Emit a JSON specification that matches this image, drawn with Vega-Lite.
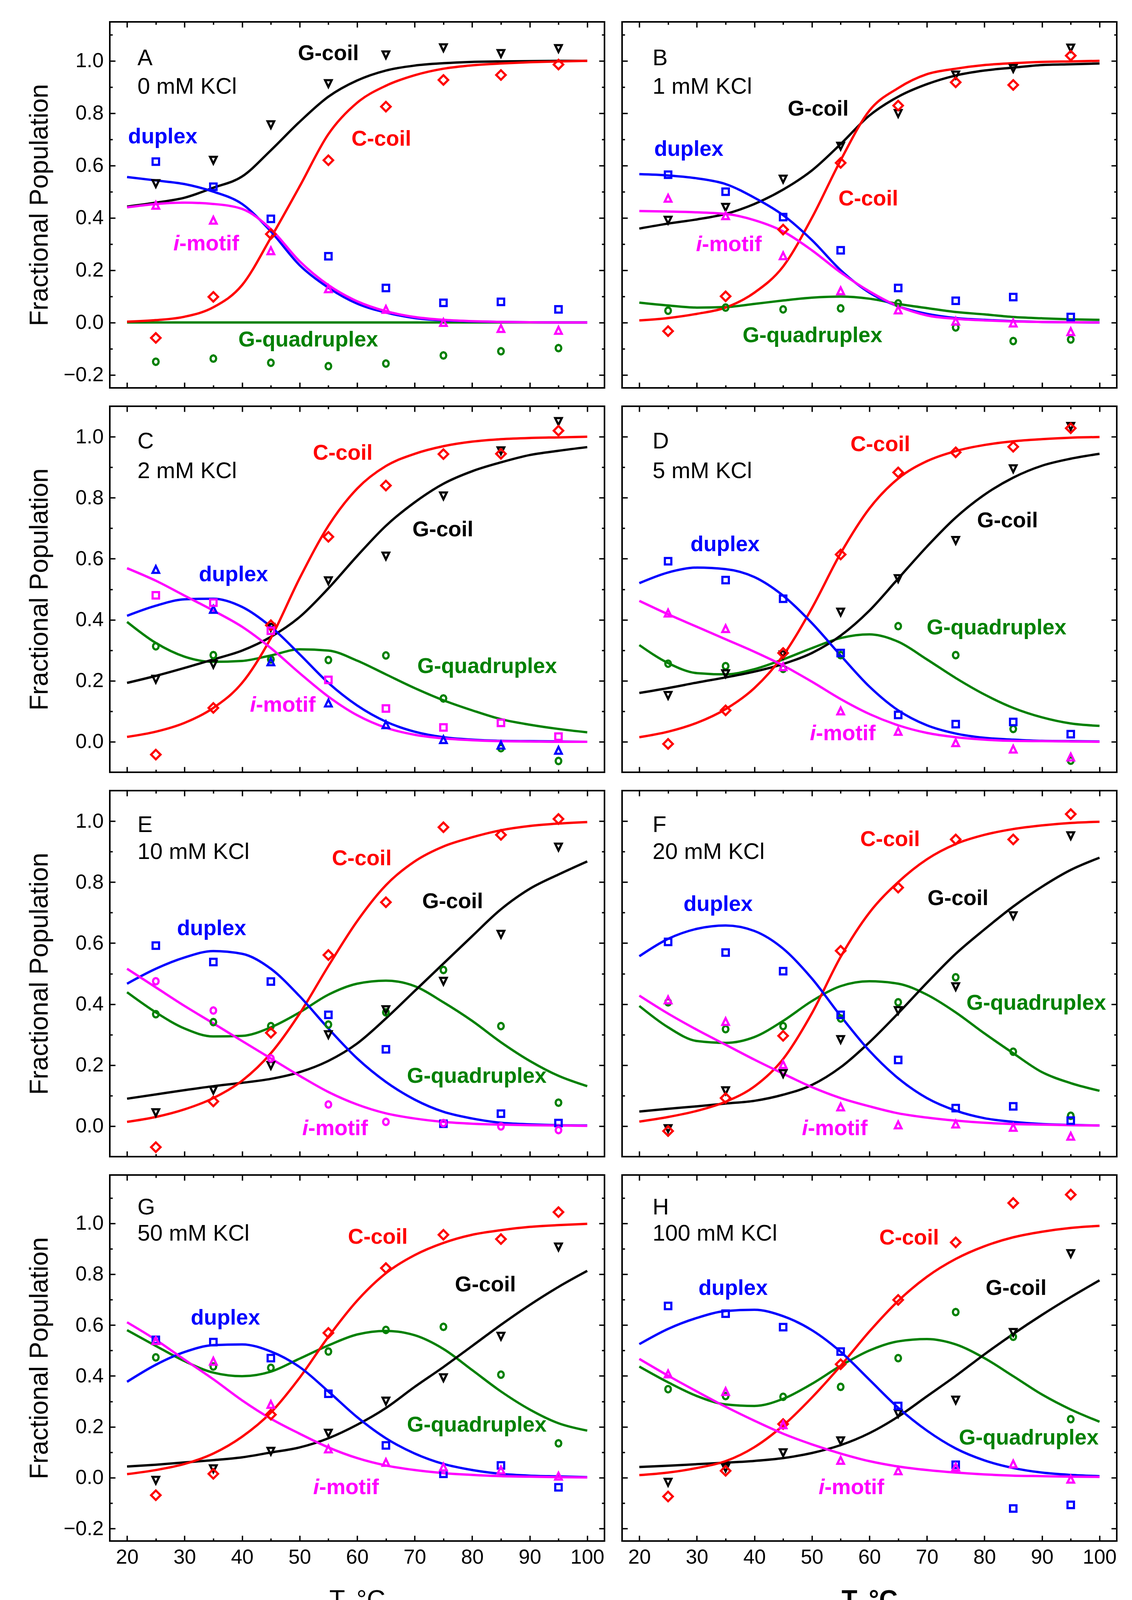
{
  "$schema": "https://vega.github.io/schema/vega-lite/v6.json",
  "padding": {"left": 65, "top": 52, "right": 40, "bottom": 5},
  "background": "white",
  "config": {
    "font": "Liberation Sans",
    "view": {"stroke": "#000000", "strokeWidth": 4},
    "axis": {
      "domain": false, "grid": false, "tickColor": "#000000", "tickWidth": 3.5,
      "labelFont": "Liberation Sans", "labelFontSize": 52, "labelColor": "#000000",
      "labelPadding": 30, "labelFlush": false, "labelOverlap": false,
      "titleFont": "Liberation Sans", "titleFontSize": 66, "titleColor": "#000000", "titleFontWeight": "normal"
    },
    "text": {"font": "Liberation Sans"}
  },
  "datasets": {
    "curves": [
      {"p":"A","s":"G-quadruplex","T":20,"f":0},{"p":"A","s":"G-quadruplex","T":25,"f":0},{"p":"A","s":"G-quadruplex","T":30,"f":0},{"p":"A","s":"G-quadruplex","T":35,"f":0},{"p":"A","s":"G-quadruplex","T":40,"f":0},{"p":"A","s":"G-quadruplex","T":45,"f":0},{"p":"A","s":"G-quadruplex","T":50,"f":0},{"p":"A","s":"G-quadruplex","T":55,"f":0},{"p":"A","s":"G-quadruplex","T":60,"f":0},{"p":"A","s":"G-quadruplex","T":65,"f":0},{"p":"A","s":"G-quadruplex","T":70,"f":0},{"p":"A","s":"G-quadruplex","T":75,"f":0},{"p":"A","s":"G-quadruplex","T":80,"f":0},{"p":"A","s":"G-quadruplex","T":85,"f":0},{"p":"A","s":"G-quadruplex","T":90,"f":0},{"p":"A","s":"G-quadruplex","T":95,"f":0},{"p":"A","s":"G-quadruplex","T":100,"f":0},
      {"p":"A","s":"G-coil","T":20,"f":0.443},{"p":"A","s":"G-coil","T":25,"f":0.458},{"p":"A","s":"G-coil","T":30,"f":0.477},{"p":"A","s":"G-coil","T":35,"f":0.515},{"p":"A","s":"G-coil","T":40,"f":0.558},{"p":"A","s":"G-coil","T":45,"f":0.658},{"p":"A","s":"G-coil","T":50,"f":0.767},{"p":"A","s":"G-coil","T":55,"f":0.863},{"p":"A","s":"G-coil","T":60,"f":0.925},{"p":"A","s":"G-coil","T":65,"f":0.963},{"p":"A","s":"G-coil","T":70,"f":0.982},{"p":"A","s":"G-coil","T":75,"f":0.991},{"p":"A","s":"G-coil","T":80,"f":0.996},{"p":"A","s":"G-coil","T":85,"f":0.998},{"p":"A","s":"G-coil","T":90,"f":0.999},{"p":"A","s":"G-coil","T":95,"f":1.0},{"p":"A","s":"G-coil","T":100,"f":1.0},
      {"p":"A","s":"C-coil","T":20,"f":0.003},{"p":"A","s":"C-coil","T":25,"f":0.009},{"p":"A","s":"C-coil","T":30,"f":0.022},{"p":"A","s":"C-coil","T":35,"f":0.058},{"p":"A","s":"C-coil","T":40,"f":0.143},{"p":"A","s":"C-coil","T":45,"f":0.324},{"p":"A","s":"C-coil","T":50,"f":0.52},{"p":"A","s":"C-coil","T":55,"f":0.72},{"p":"A","s":"C-coil","T":60,"f":0.84},{"p":"A","s":"C-coil","T":65,"f":0.905},{"p":"A","s":"C-coil","T":70,"f":0.945},{"p":"A","s":"C-coil","T":75,"f":0.97},{"p":"A","s":"C-coil","T":80,"f":0.983},{"p":"A","s":"C-coil","T":85,"f":0.99},{"p":"A","s":"C-coil","T":90,"f":0.995},{"p":"A","s":"C-coil","T":95,"f":0.998},{"p":"A","s":"C-coil","T":100,"f":1.0},
      {"p":"A","s":"duplex","T":20,"f":0.556},{"p":"A","s":"duplex","T":25,"f":0.543},{"p":"A","s":"duplex","T":30,"f":0.529},{"p":"A","s":"duplex","T":35,"f":0.5},{"p":"A","s":"duplex","T":40,"f":0.453},{"p":"A","s":"duplex","T":45,"f":0.348},{"p":"A","s":"duplex","T":50,"f":0.219},{"p":"A","s":"duplex","T":55,"f":0.133},{"p":"A","s":"duplex","T":60,"f":0.072},{"p":"A","s":"duplex","T":65,"f":0.038},{"p":"A","s":"duplex","T":70,"f":0.017},{"p":"A","s":"duplex","T":75,"f":0.008},{"p":"A","s":"duplex","T":80,"f":0.004},{"p":"A","s":"duplex","T":85,"f":0.002},{"p":"A","s":"duplex","T":90,"f":0.001},{"p":"A","s":"duplex","T":95,"f":0},{"p":"A","s":"duplex","T":100,"f":0},
      {"p":"A","s":"i-motif","T":20,"f":0.44},{"p":"A","s":"i-motif","T":25,"f":0.453},{"p":"A","s":"i-motif","T":30,"f":0.458},{"p":"A","s":"i-motif","T":35,"f":0.453},{"p":"A","s":"i-motif","T":40,"f":0.434},{"p":"A","s":"i-motif","T":45,"f":0.357},{"p":"A","s":"i-motif","T":50,"f":0.234},{"p":"A","s":"i-motif","T":55,"f":0.143},{"p":"A","s":"i-motif","T":60,"f":0.081},{"p":"A","s":"i-motif","T":65,"f":0.043},{"p":"A","s":"i-motif","T":70,"f":0.021},{"p":"A","s":"i-motif","T":75,"f":0.01},{"p":"A","s":"i-motif","T":80,"f":0.005},{"p":"A","s":"i-motif","T":85,"f":0.002},{"p":"A","s":"i-motif","T":90,"f":0.001},{"p":"A","s":"i-motif","T":95,"f":0},{"p":"A","s":"i-motif","T":100,"f":0},

      {"p":"B","s":"G-quadruplex","T":20,"f":0.076},{"p":"B","s":"G-quadruplex","T":25,"f":0.065},{"p":"B","s":"G-quadruplex","T":30,"f":0.057},{"p":"B","s":"G-quadruplex","T":35,"f":0.059},{"p":"B","s":"G-quadruplex","T":40,"f":0.071},{"p":"B","s":"G-quadruplex","T":45,"f":0.084},{"p":"B","s":"G-quadruplex","T":50,"f":0.095},{"p":"B","s":"G-quadruplex","T":55,"f":0.099},{"p":"B","s":"G-quadruplex","T":60,"f":0.091},{"p":"B","s":"G-quadruplex","T":65,"f":0.071},{"p":"B","s":"G-quadruplex","T":70,"f":0.055},{"p":"B","s":"G-quadruplex","T":75,"f":0.04},{"p":"B","s":"G-quadruplex","T":80,"f":0.031},{"p":"B","s":"G-quadruplex","T":85,"f":0.021},{"p":"B","s":"G-quadruplex","T":90,"f":0.016},{"p":"B","s":"G-quadruplex","T":95,"f":0.012},{"p":"B","s":"G-quadruplex","T":100,"f":0.01},
      {"p":"B","s":"G-coil","T":20,"f":0.359},{"p":"B","s":"G-coil","T":25,"f":0.378},{"p":"B","s":"G-coil","T":30,"f":0.394},{"p":"B","s":"G-coil","T":35,"f":0.415},{"p":"B","s":"G-coil","T":40,"f":0.453},{"p":"B","s":"G-coil","T":45,"f":0.508},{"p":"B","s":"G-coil","T":50,"f":0.581},{"p":"B","s":"G-coil","T":55,"f":0.682},{"p":"B","s":"G-coil","T":60,"f":0.791},{"p":"B","s":"G-coil","T":65,"f":0.863},{"p":"B","s":"G-coil","T":70,"f":0.911},{"p":"B","s":"G-coil","T":75,"f":0.944},{"p":"B","s":"G-coil","T":80,"f":0.963},{"p":"B","s":"G-coil","T":85,"f":0.974},{"p":"B","s":"G-coil","T":90,"f":0.984},{"p":"B","s":"G-coil","T":95,"f":0.987},{"p":"B","s":"G-coil","T":100,"f":0.99},
      {"p":"B","s":"C-coil","T":20,"f":0.008},{"p":"B","s":"C-coil","T":25,"f":0.017},{"p":"B","s":"C-coil","T":30,"f":0.033},{"p":"B","s":"C-coil","T":35,"f":0.057},{"p":"B","s":"C-coil","T":40,"f":0.114},{"p":"B","s":"C-coil","T":45,"f":0.214},{"p":"B","s":"C-coil","T":50,"f":0.4},{"p":"B","s":"C-coil","T":55,"f":0.62},{"p":"B","s":"C-coil","T":60,"f":0.81},{"p":"B","s":"C-coil","T":65,"f":0.896},{"p":"B","s":"C-coil","T":70,"f":0.949},{"p":"B","s":"C-coil","T":75,"f":0.97},{"p":"B","s":"C-coil","T":80,"f":0.984},{"p":"B","s":"C-coil","T":85,"f":0.991},{"p":"B","s":"C-coil","T":90,"f":0.996},{"p":"B","s":"C-coil","T":95,"f":0.998},{"p":"B","s":"C-coil","T":100,"f":1.0},
      {"p":"B","s":"duplex","T":20,"f":0.567},{"p":"B","s":"duplex","T":25,"f":0.562},{"p":"B","s":"duplex","T":30,"f":0.551},{"p":"B","s":"duplex","T":35,"f":0.529},{"p":"B","s":"duplex","T":40,"f":0.477},{"p":"B","s":"duplex","T":45,"f":0.41},{"p":"B","s":"duplex","T":50,"f":0.315},{"p":"B","s":"duplex","T":55,"f":0.2},{"p":"B","s":"duplex","T":60,"f":0.114},{"p":"B","s":"duplex","T":65,"f":0.062},{"p":"B","s":"duplex","T":70,"f":0.033},{"p":"B","s":"duplex","T":75,"f":0.017},{"p":"B","s":"duplex","T":80,"f":0.01},{"p":"B","s":"duplex","T":85,"f":0.005},{"p":"B","s":"duplex","T":90,"f":0.002},{"p":"B","s":"duplex","T":95,"f":0.001},{"p":"B","s":"duplex","T":100,"f":0},
      {"p":"B","s":"i-motif","T":20,"f":0.426},{"p":"B","s":"i-motif","T":25,"f":0.424},{"p":"B","s":"i-motif","T":30,"f":0.421},{"p":"B","s":"i-motif","T":35,"f":0.415},{"p":"B","s":"i-motif","T":40,"f":0.391},{"p":"B","s":"i-motif","T":45,"f":0.348},{"p":"B","s":"i-motif","T":50,"f":0.276},{"p":"B","s":"i-motif","T":55,"f":0.191},{"p":"B","s":"i-motif","T":60,"f":0.119},{"p":"B","s":"i-motif","T":65,"f":0.062},{"p":"B","s":"i-motif","T":70,"f":0.027},{"p":"B","s":"i-motif","T":75,"f":0.014},{"p":"B","s":"i-motif","T":80,"f":0.008},{"p":"B","s":"i-motif","T":85,"f":0.004},{"p":"B","s":"i-motif","T":90,"f":0.002},{"p":"B","s":"i-motif","T":95,"f":0.001},{"p":"B","s":"i-motif","T":100,"f":0},

      {"p":"C","s":"G-quadruplex","T":20,"f":0.393},{"p":"C","s":"G-quadruplex","T":25,"f":0.324},{"p":"C","s":"G-quadruplex","T":30,"f":0.279},{"p":"C","s":"G-quadruplex","T":35,"f":0.262},{"p":"C","s":"G-quadruplex","T":40,"f":0.265},{"p":"C","s":"G-quadruplex","T":45,"f":0.283},{"p":"C","s":"G-quadruplex","T":50,"f":0.303},{"p":"C","s":"G-quadruplex","T":55,"f":0.299},{"p":"C","s":"G-quadruplex","T":60,"f":0.266},{"p":"C","s":"G-quadruplex","T":65,"f":0.221},{"p":"C","s":"G-quadruplex","T":70,"f":0.176},{"p":"C","s":"G-quadruplex","T":75,"f":0.136},{"p":"C","s":"G-quadruplex","T":80,"f":0.103},{"p":"C","s":"G-quadruplex","T":85,"f":0.074},{"p":"C","s":"G-quadruplex","T":90,"f":0.056},{"p":"C","s":"G-quadruplex","T":95,"f":0.042},{"p":"C","s":"G-quadruplex","T":100,"f":0.031},
      {"p":"C","s":"G-coil","T":20,"f":0.193},{"p":"C","s":"G-coil","T":25,"f":0.216},{"p":"C","s":"G-coil","T":30,"f":0.242},{"p":"C","s":"G-coil","T":35,"f":0.27},{"p":"C","s":"G-coil","T":40,"f":0.299},{"p":"C","s":"G-coil","T":45,"f":0.344},{"p":"C","s":"G-coil","T":50,"f":0.409},{"p":"C","s":"G-coil","T":55,"f":0.503},{"p":"C","s":"G-coil","T":60,"f":0.609},{"p":"C","s":"G-coil","T":65,"f":0.708},{"p":"C","s":"G-coil","T":70,"f":0.785},{"p":"C","s":"G-coil","T":75,"f":0.846},{"p":"C","s":"G-coil","T":80,"f":0.887},{"p":"C","s":"G-coil","T":85,"f":0.916},{"p":"C","s":"G-coil","T":90,"f":0.94},{"p":"C","s":"G-coil","T":95,"f":0.954},{"p":"C","s":"G-coil","T":100,"f":0.966},
      {"p":"C","s":"C-coil","T":20,"f":0.016},{"p":"C","s":"C-coil","T":25,"f":0.033},{"p":"C","s":"C-coil","T":30,"f":0.062},{"p":"C","s":"C-coil","T":35,"f":0.111},{"p":"C","s":"C-coil","T":40,"f":0.193},{"p":"C","s":"C-coil","T":45,"f":0.34},{"p":"C","s":"C-coil","T":50,"f":0.536},{"p":"C","s":"C-coil","T":55,"f":0.708},{"p":"C","s":"C-coil","T":60,"f":0.83},{"p":"C","s":"C-coil","T":65,"f":0.904},{"p":"C","s":"C-coil","T":70,"f":0.944},{"p":"C","s":"C-coil","T":75,"f":0.969},{"p":"C","s":"C-coil","T":80,"f":0.984},{"p":"C","s":"C-coil","T":85,"f":0.992},{"p":"C","s":"C-coil","T":90,"f":0.996},{"p":"C","s":"C-coil","T":95,"f":0.998},{"p":"C","s":"C-coil","T":100,"f":1.0},
      {"p":"C","s":"duplex","T":20,"f":0.413},{"p":"C","s":"duplex","T":25,"f":0.446},{"p":"C","s":"duplex","T":30,"f":0.467},{"p":"C","s":"duplex","T":35,"f":0.469},{"p":"C","s":"duplex","T":40,"f":0.442},{"p":"C","s":"duplex","T":45,"f":0.377},{"p":"C","s":"duplex","T":50,"f":0.287},{"p":"C","s":"duplex","T":55,"f":0.193},{"p":"C","s":"duplex","T":60,"f":0.119},{"p":"C","s":"duplex","T":65,"f":0.066},{"p":"C","s":"duplex","T":70,"f":0.033},{"p":"C","s":"duplex","T":75,"f":0.015},{"p":"C","s":"duplex","T":80,"f":0.007},{"p":"C","s":"duplex","T":85,"f":0.003},{"p":"C","s":"duplex","T":90,"f":0.002},{"p":"C","s":"duplex","T":95,"f":0.001},{"p":"C","s":"duplex","T":100,"f":0},
      {"p":"C","s":"i-motif","T":20,"f":0.569},{"p":"C","s":"i-motif","T":25,"f":0.528},{"p":"C","s":"i-motif","T":30,"f":0.479},{"p":"C","s":"i-motif","T":35,"f":0.43},{"p":"C","s":"i-motif","T":40,"f":0.377},{"p":"C","s":"i-motif","T":45,"f":0.307},{"p":"C","s":"i-motif","T":50,"f":0.225},{"p":"C","s":"i-motif","T":55,"f":0.148},{"p":"C","s":"i-motif","T":60,"f":0.087},{"p":"C","s":"i-motif","T":65,"f":0.046},{"p":"C","s":"i-motif","T":70,"f":0.023},{"p":"C","s":"i-motif","T":75,"f":0.011},{"p":"C","s":"i-motif","T":80,"f":0.005},{"p":"C","s":"i-motif","T":85,"f":0.002},{"p":"C","s":"i-motif","T":90,"f":0.001},{"p":"C","s":"i-motif","T":95,"f":0},{"p":"C","s":"i-motif","T":100,"f":0},

      {"p":"D","s":"G-quadruplex","T":20,"f":0.317},{"p":"D","s":"G-quadruplex","T":25,"f":0.258},{"p":"D","s":"G-quadruplex","T":30,"f":0.225},{"p":"D","s":"G-quadruplex","T":35,"f":0.221},{"p":"D","s":"G-quadruplex","T":40,"f":0.238},{"p":"D","s":"G-quadruplex","T":45,"f":0.27},{"p":"D","s":"G-quadruplex","T":50,"f":0.307},{"p":"D","s":"G-quadruplex","T":55,"f":0.34},{"p":"D","s":"G-quadruplex","T":60,"f":0.352},{"p":"D","s":"G-quadruplex","T":65,"f":0.328},{"p":"D","s":"G-quadruplex","T":70,"f":0.27},{"p":"D","s":"G-quadruplex","T":75,"f":0.209},{"p":"D","s":"G-quadruplex","T":80,"f":0.155},{"p":"D","s":"G-quadruplex","T":85,"f":0.111},{"p":"D","s":"G-quadruplex","T":90,"f":0.08},{"p":"D","s":"G-quadruplex","T":95,"f":0.06},{"p":"D","s":"G-quadruplex","T":100,"f":0.052},
      {"p":"D","s":"G-coil","T":20,"f":0.16},{"p":"D","s":"G-coil","T":25,"f":0.176},{"p":"D","s":"G-coil","T":30,"f":0.194},{"p":"D","s":"G-coil","T":35,"f":0.211},{"p":"D","s":"G-coil","T":40,"f":0.23},{"p":"D","s":"G-coil","T":45,"f":0.255},{"p":"D","s":"G-coil","T":50,"f":0.291},{"p":"D","s":"G-coil","T":55,"f":0.348},{"p":"D","s":"G-coil","T":60,"f":0.43},{"p":"D","s":"G-coil","T":65,"f":0.535},{"p":"D","s":"G-coil","T":70,"f":0.64},{"p":"D","s":"G-coil","T":75,"f":0.735},{"p":"D","s":"G-coil","T":80,"f":0.81},{"p":"D","s":"G-coil","T":85,"f":0.866},{"p":"D","s":"G-coil","T":90,"f":0.905},{"p":"D","s":"G-coil","T":95,"f":0.928},{"p":"D","s":"G-coil","T":100,"f":0.944},
      {"p":"D","s":"C-coil","T":20,"f":0.015},{"p":"D","s":"C-coil","T":25,"f":0.033},{"p":"D","s":"C-coil","T":30,"f":0.062},{"p":"D","s":"C-coil","T":35,"f":0.107},{"p":"D","s":"C-coil","T":40,"f":0.176},{"p":"D","s":"C-coil","T":45,"f":0.283},{"p":"D","s":"C-coil","T":50,"f":0.438},{"p":"D","s":"C-coil","T":55,"f":0.618},{"p":"D","s":"C-coil","T":60,"f":0.765},{"p":"D","s":"C-coil","T":65,"f":0.863},{"p":"D","s":"C-coil","T":70,"f":0.92},{"p":"D","s":"C-coil","T":75,"f":0.953},{"p":"D","s":"C-coil","T":80,"f":0.973},{"p":"D","s":"C-coil","T":85,"f":0.985},{"p":"D","s":"C-coil","T":90,"f":0.992},{"p":"D","s":"C-coil","T":95,"f":0.997},{"p":"D","s":"C-coil","T":100,"f":0.999},
      {"p":"D","s":"duplex","T":20,"f":0.52},{"p":"D","s":"duplex","T":25,"f":0.555},{"p":"D","s":"duplex","T":30,"f":0.571},{"p":"D","s":"duplex","T":35,"f":0.566},{"p":"D","s":"duplex","T":40,"f":0.54},{"p":"D","s":"duplex","T":45,"f":0.479},{"p":"D","s":"duplex","T":50,"f":0.389},{"p":"D","s":"duplex","T":55,"f":0.283},{"p":"D","s":"duplex","T":60,"f":0.181},{"p":"D","s":"duplex","T":65,"f":0.103},{"p":"D","s":"duplex","T":70,"f":0.054},{"p":"D","s":"duplex","T":75,"f":0.027},{"p":"D","s":"duplex","T":80,"f":0.013},{"p":"D","s":"duplex","T":85,"f":0.007},{"p":"D","s":"duplex","T":90,"f":0.003},{"p":"D","s":"duplex","T":95,"f":0.002},{"p":"D","s":"duplex","T":100,"f":0.001},
      {"p":"D","s":"i-motif","T":20,"f":0.462},{"p":"D","s":"i-motif","T":25,"f":0.418},{"p":"D","s":"i-motif","T":30,"f":0.377},{"p":"D","s":"i-motif","T":35,"f":0.336},{"p":"D","s":"i-motif","T":40,"f":0.295},{"p":"D","s":"i-motif","T":45,"f":0.25},{"p":"D","s":"i-motif","T":50,"f":0.197},{"p":"D","s":"i-motif","T":55,"f":0.14},{"p":"D","s":"i-motif","T":60,"f":0.091},{"p":"D","s":"i-motif","T":65,"f":0.054},{"p":"D","s":"i-motif","T":70,"f":0.029},{"p":"D","s":"i-motif","T":75,"f":0.015},{"p":"D","s":"i-motif","T":80,"f":0.007},{"p":"D","s":"i-motif","T":85,"f":0.003},{"p":"D","s":"i-motif","T":90,"f":0.002},{"p":"D","s":"i-motif","T":95,"f":0.001},{"p":"D","s":"i-motif","T":100,"f":0},

      {"p":"E","s":"G-quadruplex","T":20,"f":0.439},{"p":"E","s":"G-quadruplex","T":25,"f":0.373},{"p":"E","s":"G-quadruplex","T":30,"f":0.32},{"p":"E","s":"G-quadruplex","T":35,"f":0.294},{"p":"E","s":"G-quadruplex","T":40,"f":0.296},{"p":"E","s":"G-quadruplex","T":45,"f":0.324},{"p":"E","s":"G-quadruplex","T":50,"f":0.373},{"p":"E","s":"G-quadruplex","T":55,"f":0.431},{"p":"E","s":"G-quadruplex","T":60,"f":0.467},{"p":"E","s":"G-quadruplex","T":65,"f":0.477},{"p":"E","s":"G-quadruplex","T":70,"f":0.459},{"p":"E","s":"G-quadruplex","T":75,"f":0.406},{"p":"E","s":"G-quadruplex","T":80,"f":0.345},{"p":"E","s":"G-quadruplex","T":85,"f":0.275},{"p":"E","s":"G-quadruplex","T":90,"f":0.214},{"p":"E","s":"G-quadruplex","T":95,"f":0.165},{"p":"E","s":"G-quadruplex","T":100,"f":0.131},
      {"p":"E","s":"G-coil","T":20,"f":0.09},{"p":"E","s":"G-coil","T":25,"f":0.104},{"p":"E","s":"G-coil","T":30,"f":0.118},{"p":"E","s":"G-coil","T":35,"f":0.131},{"p":"E","s":"G-coil","T":40,"f":0.142},{"p":"E","s":"G-coil","T":45,"f":0.155},{"p":"E","s":"G-coil","T":50,"f":0.177},{"p":"E","s":"G-coil","T":55,"f":0.214},{"p":"E","s":"G-coil","T":60,"f":0.271},{"p":"E","s":"G-coil","T":65,"f":0.353},{"p":"E","s":"G-coil","T":70,"f":0.443},{"p":"E","s":"G-coil","T":75,"f":0.533},{"p":"E","s":"G-coil","T":80,"f":0.623},{"p":"E","s":"G-coil","T":85,"f":0.711},{"p":"E","s":"G-coil","T":90,"f":0.778},{"p":"E","s":"G-coil","T":95,"f":0.825},{"p":"E","s":"G-coil","T":100,"f":0.868},
      {"p":"E","s":"C-coil","T":20,"f":0.014},{"p":"E","s":"C-coil","T":25,"f":0.03},{"p":"E","s":"C-coil","T":30,"f":0.055},{"p":"E","s":"C-coil","T":35,"f":0.092},{"p":"E","s":"C-coil","T":40,"f":0.149},{"p":"E","s":"C-coil","T":45,"f":0.239},{"p":"E","s":"C-coil","T":50,"f":0.369},{"p":"E","s":"C-coil","T":55,"f":0.525},{"p":"E","s":"C-coil","T":60,"f":0.672},{"p":"E","s":"C-coil","T":65,"f":0.79},{"p":"E","s":"C-coil","T":70,"f":0.868},{"p":"E","s":"C-coil","T":75,"f":0.917},{"p":"E","s":"C-coil","T":80,"f":0.947},{"p":"E","s":"C-coil","T":85,"f":0.97},{"p":"E","s":"C-coil","T":90,"f":0.984},{"p":"E","s":"C-coil","T":95,"f":0.992},{"p":"E","s":"C-coil","T":100,"f":0.997},
      {"p":"E","s":"duplex","T":20,"f":0.467},{"p":"E","s":"duplex","T":25,"f":0.516},{"p":"E","s":"duplex","T":30,"f":0.553},{"p":"E","s":"duplex","T":35,"f":0.574},{"p":"E","s":"duplex","T":40,"f":0.565},{"p":"E","s":"duplex","T":45,"f":0.516},{"p":"E","s":"duplex","T":50,"f":0.426},{"p":"E","s":"duplex","T":55,"f":0.32},{"p":"E","s":"duplex","T":60,"f":0.222},{"p":"E","s":"duplex","T":65,"f":0.145},{"p":"E","s":"duplex","T":70,"f":0.087},{"p":"E","s":"duplex","T":75,"f":0.047},{"p":"E","s":"duplex","T":80,"f":0.025},{"p":"E","s":"duplex","T":85,"f":0.011},{"p":"E","s":"duplex","T":90,"f":0.006},{"p":"E","s":"duplex","T":95,"f":0.003},{"p":"E","s":"duplex","T":100,"f":0.002},
      {"p":"E","s":"i-motif","T":20,"f":0.516},{"p":"E","s":"i-motif","T":25,"f":0.455},{"p":"E","s":"i-motif","T":30,"f":0.394},{"p":"E","s":"i-motif","T":35,"f":0.337},{"p":"E","s":"i-motif","T":40,"f":0.279},{"p":"E","s":"i-motif","T":45,"f":0.222},{"p":"E","s":"i-motif","T":50,"f":0.165},{"p":"E","s":"i-motif","T":55,"f":0.112},{"p":"E","s":"i-motif","T":60,"f":0.071},{"p":"E","s":"i-motif","T":65,"f":0.042},{"p":"E","s":"i-motif","T":70,"f":0.025},{"p":"E","s":"i-motif","T":75,"f":0.014},{"p":"E","s":"i-motif","T":80,"f":0.008},{"p":"E","s":"i-motif","T":85,"f":0.005},{"p":"E","s":"i-motif","T":90,"f":0.003},{"p":"E","s":"i-motif","T":95,"f":0.002},{"p":"E","s":"i-motif","T":100,"f":0.001},

      {"p":"F","s":"G-quadruplex","T":20,"f":0.394},{"p":"F","s":"G-quadruplex","T":25,"f":0.324},{"p":"F","s":"G-quadruplex","T":30,"f":0.279},{"p":"F","s":"G-quadruplex","T":35,"f":0.273},{"p":"F","s":"G-quadruplex","T":40,"f":0.292},{"p":"F","s":"G-quadruplex","T":45,"f":0.345},{"p":"F","s":"G-quadruplex","T":50,"f":0.41},{"p":"F","s":"G-quadruplex","T":55,"f":0.459},{"p":"F","s":"G-quadruplex","T":60,"f":0.475},{"p":"F","s":"G-quadruplex","T":65,"f":0.467},{"p":"F","s":"G-quadruplex","T":70,"f":0.431},{"p":"F","s":"G-quadruplex","T":75,"f":0.373},{"p":"F","s":"G-quadruplex","T":80,"f":0.304},{"p":"F","s":"G-quadruplex","T":85,"f":0.239},{"p":"F","s":"G-quadruplex","T":90,"f":0.177},{"p":"F","s":"G-quadruplex","T":95,"f":0.141},{"p":"F","s":"G-quadruplex","T":100,"f":0.116},
      {"p":"F","s":"G-coil","T":20,"f":0.048},{"p":"F","s":"G-coil","T":25,"f":0.057},{"p":"F","s":"G-coil","T":30,"f":0.065},{"p":"F","s":"G-coil","T":35,"f":0.074},{"p":"F","s":"G-coil","T":40,"f":0.083},{"p":"F","s":"G-coil","T":45,"f":0.103},{"p":"F","s":"G-coil","T":50,"f":0.135},{"p":"F","s":"G-coil","T":55,"f":0.193},{"p":"F","s":"G-coil","T":60,"f":0.275},{"p":"F","s":"G-coil","T":65,"f":0.37},{"p":"F","s":"G-coil","T":70,"f":0.47},{"p":"F","s":"G-coil","T":75,"f":0.565},{"p":"F","s":"G-coil","T":80,"f":0.645},{"p":"F","s":"G-coil","T":85,"f":0.72},{"p":"F","s":"G-coil","T":90,"f":0.785},{"p":"F","s":"G-coil","T":95,"f":0.84},{"p":"F","s":"G-coil","T":100,"f":0.88},
      {"p":"F","s":"C-coil","T":20,"f":0.015},{"p":"F","s":"C-coil","T":25,"f":0.03},{"p":"F","s":"C-coil","T":30,"f":0.05},{"p":"F","s":"C-coil","T":35,"f":0.08},{"p":"F","s":"C-coil","T":40,"f":0.13},{"p":"F","s":"C-coil","T":45,"f":0.22},{"p":"F","s":"C-coil","T":50,"f":0.37},{"p":"F","s":"C-coil","T":55,"f":0.555},{"p":"F","s":"C-coil","T":60,"f":0.7},{"p":"F","s":"C-coil","T":65,"f":0.8},{"p":"F","s":"C-coil","T":70,"f":0.875},{"p":"F","s":"C-coil","T":75,"f":0.925},{"p":"F","s":"C-coil","T":80,"f":0.955},{"p":"F","s":"C-coil","T":85,"f":0.974},{"p":"F","s":"C-coil","T":90,"f":0.986},{"p":"F","s":"C-coil","T":95,"f":0.994},{"p":"F","s":"C-coil","T":100,"f":0.998},
      {"p":"F","s":"duplex","T":20,"f":0.557},{"p":"F","s":"duplex","T":25,"f":0.614},{"p":"F","s":"duplex","T":30,"f":0.647},{"p":"F","s":"duplex","T":35,"f":0.658},{"p":"F","s":"duplex","T":40,"f":0.64},{"p":"F","s":"duplex","T":45,"f":0.582},{"p":"F","s":"duplex","T":50,"f":0.484},{"p":"F","s":"duplex","T":55,"f":0.361},{"p":"F","s":"duplex","T":60,"f":0.247},{"p":"F","s":"duplex","T":65,"f":0.157},{"p":"F","s":"duplex","T":70,"f":0.092},{"p":"F","s":"duplex","T":75,"f":0.051},{"p":"F","s":"duplex","T":80,"f":0.026},{"p":"F","s":"duplex","T":85,"f":0.014},{"p":"F","s":"duplex","T":90,"f":0.007},{"p":"F","s":"duplex","T":95,"f":0.004},{"p":"F","s":"duplex","T":100,"f":0.002},
      {"p":"F","s":"i-motif","T":20,"f":0.428},{"p":"F","s":"i-motif","T":25,"f":0.369},{"p":"F","s":"i-motif","T":30,"f":0.316},{"p":"F","s":"i-motif","T":35,"f":0.267},{"p":"F","s":"i-motif","T":40,"f":0.218},{"p":"F","s":"i-motif","T":45,"f":0.172},{"p":"F","s":"i-motif","T":50,"f":0.128},{"p":"F","s":"i-motif","T":55,"f":0.092},{"p":"F","s":"i-motif","T":60,"f":0.065},{"p":"F","s":"i-motif","T":65,"f":0.042},{"p":"F","s":"i-motif","T":70,"f":0.028},{"p":"F","s":"i-motif","T":75,"f":0.018},{"p":"F","s":"i-motif","T":80,"f":0.011},{"p":"F","s":"i-motif","T":85,"f":0.007},{"p":"F","s":"i-motif","T":90,"f":0.005},{"p":"F","s":"i-motif","T":95,"f":0.003},{"p":"F","s":"i-motif","T":100,"f":0.002},

      {"p":"G","s":"G-quadruplex","T":20,"f":0.58},{"p":"G","s":"G-quadruplex","T":25,"f":0.518},{"p":"G","s":"G-quadruplex","T":30,"f":0.458},{"p":"G","s":"G-quadruplex","T":35,"f":0.413},{"p":"G","s":"G-quadruplex","T":40,"f":0.399},{"p":"G","s":"G-quadruplex","T":45,"f":0.417},{"p":"G","s":"G-quadruplex","T":50,"f":0.468},{"p":"G","s":"G-quadruplex","T":55,"f":0.52},{"p":"G","s":"G-quadruplex","T":60,"f":0.563},{"p":"G","s":"G-quadruplex","T":65,"f":0.577},{"p":"G","s":"G-quadruplex","T":70,"f":0.56},{"p":"G","s":"G-quadruplex","T":75,"f":0.506},{"p":"G","s":"G-quadruplex","T":80,"f":0.423},{"p":"G","s":"G-quadruplex","T":85,"f":0.339},{"p":"G","s":"G-quadruplex","T":90,"f":0.268},{"p":"G","s":"G-quadruplex","T":95,"f":0.214},{"p":"G","s":"G-quadruplex","T":100,"f":0.185},
      {"p":"G","s":"G-coil","T":20,"f":0.044},{"p":"G","s":"G-coil","T":25,"f":0.051},{"p":"G","s":"G-coil","T":30,"f":0.06},{"p":"G","s":"G-coil","T":35,"f":0.069},{"p":"G","s":"G-coil","T":40,"f":0.08},{"p":"G","s":"G-coil","T":45,"f":0.099},{"p":"G","s":"G-coil","T":50,"f":0.119},{"p":"G","s":"G-coil","T":55,"f":0.155},{"p":"G","s":"G-coil","T":60,"f":0.208},{"p":"G","s":"G-coil","T":65,"f":0.274},{"p":"G","s":"G-coil","T":70,"f":0.357},{"p":"G","s":"G-coil","T":75,"f":0.435},{"p":"G","s":"G-coil","T":80,"f":0.518},{"p":"G","s":"G-coil","T":85,"f":0.601},{"p":"G","s":"G-coil","T":90,"f":0.679},{"p":"G","s":"G-coil","T":95,"f":0.75},{"p":"G","s":"G-coil","T":100,"f":0.813},
      {"p":"G","s":"C-coil","T":20,"f":0.014},{"p":"G","s":"C-coil","T":25,"f":0.03},{"p":"G","s":"C-coil","T":30,"f":0.054},{"p":"G","s":"C-coil","T":35,"f":0.095},{"p":"G","s":"C-coil","T":40,"f":0.161},{"p":"G","s":"C-coil","T":45,"f":0.256},{"p":"G","s":"C-coil","T":50,"f":0.393},{"p":"G","s":"C-coil","T":55,"f":0.554},{"p":"G","s":"C-coil","T":60,"f":0.696},{"p":"G","s":"C-coil","T":65,"f":0.804},{"p":"G","s":"C-coil","T":70,"f":0.875},{"p":"G","s":"C-coil","T":75,"f":0.923},{"p":"G","s":"C-coil","T":80,"f":0.955},{"p":"G","s":"C-coil","T":85,"f":0.973},{"p":"G","s":"C-coil","T":90,"f":0.986},{"p":"G","s":"C-coil","T":95,"f":0.993},{"p":"G","s":"C-coil","T":100,"f":0.998},
      {"p":"G","s":"duplex","T":20,"f":0.377},{"p":"G","s":"duplex","T":25,"f":0.444},{"p":"G","s":"duplex","T":30,"f":0.494},{"p":"G","s":"duplex","T":35,"f":0.521},{"p":"G","s":"duplex","T":40,"f":0.524},{"p":"G","s":"duplex","T":45,"f":0.496},{"p":"G","s":"duplex","T":50,"f":0.435},{"p":"G","s":"duplex","T":55,"f":0.339},{"p":"G","s":"duplex","T":60,"f":0.238},{"p":"G","s":"duplex","T":65,"f":0.155},{"p":"G","s":"duplex","T":70,"f":0.095},{"p":"G","s":"duplex","T":75,"f":0.054},{"p":"G","s":"duplex","T":80,"f":0.03},{"p":"G","s":"duplex","T":85,"f":0.015},{"p":"G","s":"duplex","T":90,"f":0.008},{"p":"G","s":"duplex","T":95,"f":0.005},{"p":"G","s":"duplex","T":100,"f":0.002},
      {"p":"G","s":"i-motif","T":20,"f":0.611},{"p":"G","s":"i-motif","T":25,"f":0.542},{"p":"G","s":"i-motif","T":30,"f":0.464},{"p":"G","s":"i-motif","T":35,"f":0.387},{"p":"G","s":"i-motif","T":40,"f":0.304},{"p":"G","s":"i-motif","T":45,"f":0.232},{"p":"G","s":"i-motif","T":50,"f":0.173},{"p":"G","s":"i-motif","T":55,"f":0.119},{"p":"G","s":"i-motif","T":60,"f":0.077},{"p":"G","s":"i-motif","T":65,"f":0.048},{"p":"G","s":"i-motif","T":70,"f":0.03},{"p":"G","s":"i-motif","T":75,"f":0.018},{"p":"G","s":"i-motif","T":80,"f":0.011},{"p":"G","s":"i-motif","T":85,"f":0.006},{"p":"G","s":"i-motif","T":90,"f":0.004},{"p":"G","s":"i-motif","T":95,"f":0.002},{"p":"G","s":"i-motif","T":100,"f":0.001},

      {"p":"H","s":"G-quadruplex","T":20,"f":0.437},{"p":"H","s":"G-quadruplex","T":25,"f":0.375},{"p":"H","s":"G-quadruplex","T":30,"f":0.321},{"p":"H","s":"G-quadruplex","T":35,"f":0.288},{"p":"H","s":"G-quadruplex","T":40,"f":0.282},{"p":"H","s":"G-quadruplex","T":45,"f":0.31},{"p":"H","s":"G-quadruplex","T":50,"f":0.369},{"p":"H","s":"G-quadruplex","T":55,"f":0.44},{"p":"H","s":"G-quadruplex","T":60,"f":0.5},{"p":"H","s":"G-quadruplex","T":65,"f":0.536},{"p":"H","s":"G-quadruplex","T":70,"f":0.545},{"p":"H","s":"G-quadruplex","T":75,"f":0.524},{"p":"H","s":"G-quadruplex","T":80,"f":0.47},{"p":"H","s":"G-quadruplex","T":85,"f":0.399},{"p":"H","s":"G-quadruplex","T":90,"f":0.327},{"p":"H","s":"G-quadruplex","T":95,"f":0.268},{"p":"H","s":"G-quadruplex","T":100,"f":0.22},
      {"p":"H","s":"G-coil","T":20,"f":0.042},{"p":"H","s":"G-coil","T":25,"f":0.047},{"p":"H","s":"G-coil","T":30,"f":0.053},{"p":"H","s":"G-coil","T":35,"f":0.059},{"p":"H","s":"G-coil","T":40,"f":0.066},{"p":"H","s":"G-coil","T":45,"f":0.077},{"p":"H","s":"G-coil","T":50,"f":0.097},{"p":"H","s":"G-coil","T":55,"f":0.128},{"p":"H","s":"G-coil","T":60,"f":0.175},{"p":"H","s":"G-coil","T":65,"f":0.24},{"p":"H","s":"G-coil","T":70,"f":0.32},{"p":"H","s":"G-coil","T":75,"f":0.4},{"p":"H","s":"G-coil","T":80,"f":0.485},{"p":"H","s":"G-coil","T":85,"f":0.565},{"p":"H","s":"G-coil","T":90,"f":0.64},{"p":"H","s":"G-coil","T":95,"f":0.71},{"p":"H","s":"G-coil","T":100,"f":0.776},
      {"p":"H","s":"C-coil","T":20,"f":0.01},{"p":"H","s":"C-coil","T":25,"f":0.02},{"p":"H","s":"C-coil","T":30,"f":0.038},{"p":"H","s":"C-coil","T":35,"f":0.065},{"p":"H","s":"C-coil","T":40,"f":0.12},{"p":"H","s":"C-coil","T":45,"f":0.205},{"p":"H","s":"C-coil","T":50,"f":0.315},{"p":"H","s":"C-coil","T":55,"f":0.44},{"p":"H","s":"C-coil","T":60,"f":0.575},{"p":"H","s":"C-coil","T":65,"f":0.695},{"p":"H","s":"C-coil","T":70,"f":0.79},{"p":"H","s":"C-coil","T":75,"f":0.86},{"p":"H","s":"C-coil","T":80,"f":0.91},{"p":"H","s":"C-coil","T":85,"f":0.945},{"p":"H","s":"C-coil","T":90,"f":0.967},{"p":"H","s":"C-coil","T":95,"f":0.982},{"p":"H","s":"C-coil","T":100,"f":0.99},
      {"p":"H","s":"duplex","T":20,"f":0.525},{"p":"H","s":"duplex","T":25,"f":0.585},{"p":"H","s":"duplex","T":30,"f":0.628},{"p":"H","s":"duplex","T":35,"f":0.655},{"p":"H","s":"duplex","T":40,"f":0.66},{"p":"H","s":"duplex","T":45,"f":0.635},{"p":"H","s":"duplex","T":50,"f":0.58},{"p":"H","s":"duplex","T":55,"f":0.495},{"p":"H","s":"duplex","T":60,"f":0.385},{"p":"H","s":"duplex","T":65,"f":0.275},{"p":"H","s":"duplex","T":70,"f":0.185},{"p":"H","s":"duplex","T":75,"f":0.115},{"p":"H","s":"duplex","T":80,"f":0.068},{"p":"H","s":"duplex","T":85,"f":0.038},{"p":"H","s":"duplex","T":90,"f":0.02},{"p":"H","s":"duplex","T":95,"f":0.011},{"p":"H","s":"duplex","T":100,"f":0.006},
      {"p":"H","s":"i-motif","T":20,"f":0.467},{"p":"H","s":"i-motif","T":25,"f":0.401},{"p":"H","s":"i-motif","T":30,"f":0.339},{"p":"H","s":"i-motif","T":35,"f":0.279},{"p":"H","s":"i-motif","T":40,"f":0.224},{"p":"H","s":"i-motif","T":45,"f":0.173},{"p":"H","s":"i-motif","T":50,"f":0.131},{"p":"H","s":"i-motif","T":55,"f":0.095},{"p":"H","s":"i-motif","T":60,"f":0.065},{"p":"H","s":"i-motif","T":65,"f":0.044},{"p":"H","s":"i-motif","T":70,"f":0.03},{"p":"H","s":"i-motif","T":75,"f":0.02},{"p":"H","s":"i-motif","T":80,"f":0.013},{"p":"H","s":"i-motif","T":85,"f":0.008},{"p":"H","s":"i-motif","T":90,"f":0.006},{"p":"H","s":"i-motif","T":95,"f":0.004},{"p":"H","s":"i-motif","T":100,"f":0.003}
    ],
    "points": [
      {"p":"A","s":"G-quadruplex","T":25,"f":-0.15},{"p":"A","s":"G-quadruplex","T":35,"f":-0.138},{"p":"A","s":"G-quadruplex","T":45,"f":-0.154},{"p":"A","s":"G-quadruplex","T":55,"f":-0.167},{"p":"A","s":"G-quadruplex","T":65,"f":-0.157},{"p":"A","s":"G-quadruplex","T":75,"f":-0.126},{"p":"A","s":"G-quadruplex","T":85,"f":-0.11},{"p":"A","s":"G-quadruplex","T":95,"f":-0.098},
      {"p":"A","s":"G-coil","T":25,"f":0.531},{"p":"A","s":"G-coil","T":35,"f":0.62},{"p":"A","s":"G-coil","T":45,"f":0.756},{"p":"A","s":"G-coil","T":55,"f":0.913},{"p":"A","s":"G-coil","T":65,"f":1.023},{"p":"A","s":"G-coil","T":75,"f":1.05},{"p":"A","s":"G-coil","T":85,"f":1.028},{"p":"A","s":"G-coil","T":95,"f":1.047},
      {"p":"A","s":"C-coil","T":25,"f":-0.059},{"p":"A","s":"C-coil","T":35,"f":0.098},{"p":"A","s":"C-coil","T":45,"f":0.338},{"p":"A","s":"C-coil","T":55,"f":0.62},{"p":"A","s":"C-coil","T":65,"f":0.825},{"p":"A","s":"C-coil","T":75,"f":0.927},{"p":"A","s":"C-coil","T":85,"f":0.946},{"p":"A","s":"C-coil","T":95,"f":0.986},
      {"p":"A","s":"duplex","T":25,"f":0.615},{"p":"A","s":"duplex","T":35,"f":0.519},{"p":"A","s":"duplex","T":45,"f":0.396},{"p":"A","s":"duplex","T":55,"f":0.253},{"p":"A","s":"duplex","T":65,"f":0.132},{"p":"A","s":"duplex","T":75,"f":0.075},{"p":"A","s":"duplex","T":85,"f":0.079},{"p":"A","s":"duplex","T":95,"f":0.05},
      {"p":"A","s":"i-motif","T":25,"f":0.448},{"p":"A","s":"i-motif","T":35,"f":0.391},{"p":"A","s":"i-motif","T":45,"f":0.274},{"p":"A","s":"i-motif","T":55,"f":0.129},{"p":"A","s":"i-motif","T":65,"f":0.05},{"p":"A","s":"i-motif","T":75,"f":0.0},{"p":"A","s":"i-motif","T":85,"f":-0.023},{"p":"A","s":"i-motif","T":95,"f":-0.03},

      {"p":"B","s":"G-quadruplex","T":25,"f":0.045},{"p":"B","s":"G-quadruplex","T":35,"f":0.057},{"p":"B","s":"G-quadruplex","T":45,"f":0.05},{"p":"B","s":"G-quadruplex","T":55,"f":0.054},{"p":"B","s":"G-quadruplex","T":65,"f":0.073},{"p":"B","s":"G-quadruplex","T":75,"f":-0.019},{"p":"B","s":"G-quadruplex","T":85,"f":-0.071},{"p":"B","s":"G-quadruplex","T":95,"f":-0.065},
      {"p":"B","s":"G-coil","T":25,"f":0.391},{"p":"B","s":"G-coil","T":35,"f":0.44},{"p":"B","s":"G-coil","T":45,"f":0.548},{"p":"B","s":"G-coil","T":55,"f":0.674},{"p":"B","s":"G-coil","T":65,"f":0.799},{"p":"B","s":"G-coil","T":75,"f":0.946},{"p":"B","s":"G-coil","T":85,"f":0.971},{"p":"B","s":"G-coil","T":95,"f":1.049},
      {"p":"B","s":"C-coil","T":25,"f":-0.033},{"p":"B","s":"C-coil","T":35,"f":0.1},{"p":"B","s":"C-coil","T":45,"f":0.355},{"p":"B","s":"C-coil","T":55,"f":0.61},{"p":"B","s":"C-coil","T":65,"f":0.829},{"p":"B","s":"C-coil","T":75,"f":0.918},{"p":"B","s":"C-coil","T":85,"f":0.908},{"p":"B","s":"C-coil","T":95,"f":1.02},
      {"p":"B","s":"duplex","T":25,"f":0.565},{"p":"B","s":"duplex","T":35,"f":0.5},{"p":"B","s":"duplex","T":45,"f":0.403},{"p":"B","s":"duplex","T":55,"f":0.276},{"p":"B","s":"duplex","T":65,"f":0.132},{"p":"B","s":"duplex","T":75,"f":0.083},{"p":"B","s":"duplex","T":85,"f":0.097},{"p":"B","s":"duplex","T":95,"f":0.021},
      {"p":"B","s":"i-motif","T":25,"f":0.475},{"p":"B","s":"i-motif","T":35,"f":0.408},{"p":"B","s":"i-motif","T":45,"f":0.255},{"p":"B","s":"i-motif","T":55,"f":0.121},{"p":"B","s":"i-motif","T":65,"f":0.048},{"p":"B","s":"i-motif","T":75,"f":0.005},{"p":"B","s":"i-motif","T":85,"f":-0.002},{"p":"B","s":"i-motif","T":95,"f":-0.035},

      {"p":"C","s":"G-quadruplex","T":25,"f":0.313},{"p":"C","s":"G-quadruplex","T":35,"f":0.284},{"p":"C","s":"G-quadruplex","T":45,"f":0.27},{"p":"C","s":"G-quadruplex","T":55,"f":0.268},{"p":"C","s":"G-quadruplex","T":65,"f":0.283},{"p":"C","s":"G-quadruplex","T":75,"f":0.142},{"p":"C","s":"G-quadruplex","T":85,"f":-0.021},{"p":"C","s":"G-quadruplex","T":95,"f":-0.063},
      {"p":"C","s":"G-coil","T":25,"f":0.205},{"p":"C","s":"G-coil","T":35,"f":0.254},{"p":"C","s":"G-coil","T":45,"f":0.375},{"p":"C","s":"G-coil","T":55,"f":0.528},{"p":"C","s":"G-coil","T":65,"f":0.609},{"p":"C","s":"G-coil","T":75,"f":0.806},{"p":"C","s":"G-coil","T":85,"f":0.954},{"p":"C","s":"G-coil","T":95,"f":1.05},
      {"p":"C","s":"C-coil","T":25,"f":-0.042},{"p":"C","s":"C-coil","T":35,"f":0.111},{"p":"C","s":"C-coil","T":45,"f":0.382},{"p":"C","s":"C-coil","T":55,"f":0.672},{"p":"C","s":"C-coil","T":65,"f":0.84},{"p":"C","s":"C-coil","T":75,"f":0.943},{"p":"C","s":"C-coil","T":85,"f":0.944},{"p":"C","s":"C-coil","T":95,"f":1.02},
      {"p":"C","s":"duplex","T":25,"f":0.565},{"p":"C","s":"duplex","T":35,"f":0.434},{"p":"C","s":"duplex","T":45,"f":0.262},{"p":"C","s":"duplex","T":55,"f":0.127},{"p":"C","s":"duplex","T":65,"f":0.056},{"p":"C","s":"duplex","T":75,"f":0.007},{"p":"C","s":"duplex","T":85,"f":-0.011},{"p":"C","s":"duplex","T":95,"f":-0.028},
      {"p":"C","s":"i-motif","T":25,"f":0.48},{"p":"C","s":"i-motif","T":35,"f":0.456},{"p":"C","s":"i-motif","T":45,"f":0.364},{"p":"C","s":"i-motif","T":55,"f":0.203},{"p":"C","s":"i-motif","T":65,"f":0.109},{"p":"C","s":"i-motif","T":75,"f":0.047},{"p":"C","s":"i-motif","T":85,"f":0.062},{"p":"C","s":"i-motif","T":95,"f":0.017},

      {"p":"D","s":"G-quadruplex","T":25,"f":0.256},{"p":"D","s":"G-quadruplex","T":35,"f":0.248},{"p":"D","s":"G-quadruplex","T":45,"f":0.239},{"p":"D","s":"G-quadruplex","T":55,"f":0.284},{"p":"D","s":"G-quadruplex","T":65,"f":0.379},{"p":"D","s":"G-quadruplex","T":75,"f":0.284},{"p":"D","s":"G-quadruplex","T":85,"f":0.042},{"p":"D","s":"G-quadruplex","T":95,"f":-0.062},
      {"p":"D","s":"G-coil","T":25,"f":0.152},{"p":"D","s":"G-coil","T":35,"f":0.223},{"p":"D","s":"G-coil","T":45,"f":0.285},{"p":"D","s":"G-coil","T":55,"f":0.425},{"p":"D","s":"G-coil","T":65,"f":0.535},{"p":"D","s":"G-coil","T":75,"f":0.66},{"p":"D","s":"G-coil","T":85,"f":0.895},{"p":"D","s":"G-coil","T":95,"f":1.034},
      {"p":"D","s":"C-coil","T":25,"f":-0.007},{"p":"D","s":"C-coil","T":35,"f":0.103},{"p":"D","s":"C-coil","T":45,"f":0.291},{"p":"D","s":"C-coil","T":55,"f":0.614},{"p":"D","s":"C-coil","T":65,"f":0.883},{"p":"D","s":"C-coil","T":75,"f":0.949},{"p":"D","s":"C-coil","T":85,"f":0.967},{"p":"D","s":"C-coil","T":95,"f":1.028},
      {"p":"D","s":"duplex","T":25,"f":0.592},{"p":"D","s":"duplex","T":35,"f":0.53},{"p":"D","s":"duplex","T":45,"f":0.469},{"p":"D","s":"duplex","T":55,"f":0.291},{"p":"D","s":"duplex","T":65,"f":0.088},{"p":"D","s":"duplex","T":75,"f":0.058},{"p":"D","s":"duplex","T":85,"f":0.065},{"p":"D","s":"duplex","T":95,"f":0.025},
      {"p":"D","s":"i-motif","T":25,"f":0.422},{"p":"D","s":"i-motif","T":35,"f":0.371},{"p":"D","s":"i-motif","T":45,"f":0.246},{"p":"D","s":"i-motif","T":55,"f":0.101},{"p":"D","s":"i-motif","T":65,"f":0.034},{"p":"D","s":"i-motif","T":75,"f":-0.003},{"p":"D","s":"i-motif","T":85,"f":-0.024},{"p":"D","s":"i-motif","T":95,"f":-0.05},

      {"p":"E","s":"G-quadruplex","T":25,"f":0.367},{"p":"E","s":"G-quadruplex","T":35,"f":0.341},{"p":"E","s":"G-quadruplex","T":45,"f":0.328},{"p":"E","s":"G-quadruplex","T":55,"f":0.333},{"p":"E","s":"G-quadruplex","T":65,"f":0.373},{"p":"E","s":"G-quadruplex","T":75,"f":0.512},{"p":"E","s":"G-quadruplex","T":85,"f":0.328},{"p":"E","s":"G-quadruplex","T":95,"f":0.077},
      {"p":"E","s":"G-coil","T":25,"f":0.044},{"p":"E","s":"G-coil","T":35,"f":0.118},{"p":"E","s":"G-coil","T":45,"f":0.199},{"p":"E","s":"G-coil","T":55,"f":0.3},{"p":"E","s":"G-coil","T":65,"f":0.382},{"p":"E","s":"G-coil","T":75,"f":0.475},{"p":"E","s":"G-coil","T":85,"f":0.629},{"p":"E","s":"G-coil","T":95,"f":0.915},
      {"p":"E","s":"C-coil","T":25,"f":-0.069},{"p":"E","s":"C-coil","T":35,"f":0.081},{"p":"E","s":"C-coil","T":45,"f":0.306},{"p":"E","s":"C-coil","T":55,"f":0.561},{"p":"E","s":"C-coil","T":65,"f":0.734},{"p":"E","s":"C-coil","T":75,"f":0.98},{"p":"E","s":"C-coil","T":85,"f":0.955},{"p":"E","s":"C-coil","T":95,"f":1.007},
      {"p":"E","s":"duplex","T":25,"f":0.592},{"p":"E","s":"duplex","T":35,"f":0.538},{"p":"E","s":"duplex","T":45,"f":0.474},{"p":"E","s":"duplex","T":55,"f":0.365},{"p":"E","s":"duplex","T":65,"f":0.252},{"p":"E","s":"duplex","T":75,"f":0.008},{"p":"E","s":"duplex","T":85,"f":0.041},{"p":"E","s":"duplex","T":95,"f":0.01},
      {"p":"E","s":"i-motif","T":25,"f":0.475},{"p":"E","s":"i-motif","T":35,"f":0.379},{"p":"E","s":"i-motif","T":45,"f":0.222},{"p":"E","s":"i-motif","T":55,"f":0.071},{"p":"E","s":"i-motif","T":65,"f":0.014},{"p":"E","s":"i-motif","T":75,"f":0.01},{"p":"E","s":"i-motif","T":85,"f":-0.001},{"p":"E","s":"i-motif","T":95,"f":-0.013},

      {"p":"F","s":"G-quadruplex","T":25,"f":0.406},{"p":"F","s":"G-quadruplex","T":35,"f":0.318},{"p":"F","s":"G-quadruplex","T":45,"f":0.328},{"p":"F","s":"G-quadruplex","T":55,"f":0.353},{"p":"F","s":"G-quadruplex","T":65,"f":0.406},{"p":"F","s":"G-quadruplex","T":75,"f":0.488},{"p":"F","s":"G-quadruplex","T":85,"f":0.244},{"p":"F","s":"G-quadruplex","T":95,"f":0.034},
      {"p":"F","s":"G-coil","T":25,"f":-0.008},{"p":"F","s":"G-coil","T":35,"f":0.116},{"p":"F","s":"G-coil","T":45,"f":0.172},{"p":"F","s":"G-coil","T":55,"f":0.284},{"p":"F","s":"G-coil","T":65,"f":0.379},{"p":"F","s":"G-coil","T":75,"f":0.457},{"p":"F","s":"G-coil","T":85,"f":0.69},{"p":"F","s":"G-coil","T":95,"f":0.952},
      {"p":"F","s":"C-coil","T":25,"f":-0.016},{"p":"F","s":"C-coil","T":35,"f":0.092},{"p":"F","s":"C-coil","T":45,"f":0.296},{"p":"F","s":"C-coil","T":55,"f":0.575},{"p":"F","s":"C-coil","T":65,"f":0.782},{"p":"F","s":"C-coil","T":75,"f":0.94},{"p":"F","s":"C-coil","T":85,"f":0.94},{"p":"F","s":"C-coil","T":95,"f":1.023},
      {"p":"F","s":"duplex","T":25,"f":0.604},{"p":"F","s":"duplex","T":35,"f":0.569},{"p":"F","s":"duplex","T":45,"f":0.508},{"p":"F","s":"duplex","T":55,"f":0.365},{"p":"F","s":"duplex","T":65,"f":0.217},{"p":"F","s":"duplex","T":75,"f":0.059},{"p":"F","s":"duplex","T":85,"f":0.065},{"p":"F","s":"duplex","T":95,"f":0.018},
      {"p":"F","s":"i-motif","T":25,"f":0.414},{"p":"F","s":"i-motif","T":35,"f":0.343},{"p":"F","s":"i-motif","T":45,"f":0.202},{"p":"F","s":"i-motif","T":55,"f":0.063},{"p":"F","s":"i-motif","T":65,"f":0.004},{"p":"F","s":"i-motif","T":75,"f":0.007},{"p":"F","s":"i-motif","T":85,"f":-0.004},{"p":"F","s":"i-motif","T":95,"f":-0.033},

      {"p":"G","s":"G-quadruplex","T":25,"f":0.473},{"p":"G","s":"G-quadruplex","T":35,"f":0.437},{"p":"G","s":"G-quadruplex","T":45,"f":0.432},{"p":"G","s":"G-quadruplex","T":55,"f":0.496},{"p":"G","s":"G-quadruplex","T":65,"f":0.581},{"p":"G","s":"G-quadruplex","T":75,"f":0.593},{"p":"G","s":"G-quadruplex","T":85,"f":0.405},{"p":"G","s":"G-quadruplex","T":95,"f":0.135},
      {"p":"G","s":"G-coil","T":25,"f":-0.01},{"p":"G","s":"G-coil","T":35,"f":0.035},{"p":"G","s":"G-coil","T":45,"f":0.104},{"p":"G","s":"G-coil","T":55,"f":0.175},{"p":"G","s":"G-coil","T":65,"f":0.301},{"p":"G","s":"G-coil","T":75,"f":0.393},{"p":"G","s":"G-coil","T":85,"f":0.556},{"p":"G","s":"G-coil","T":95,"f":0.907},
      {"p":"G","s":"C-coil","T":25,"f":-0.069},{"p":"G","s":"C-coil","T":35,"f":0.015},{"p":"G","s":"C-coil","T":45,"f":0.248},{"p":"G","s":"C-coil","T":55,"f":0.569},{"p":"G","s":"C-coil","T":65,"f":0.824},{"p":"G","s":"C-coil","T":75,"f":0.955},{"p":"G","s":"C-coil","T":85,"f":0.938},{"p":"G","s":"C-coil","T":95,"f":1.044},
      {"p":"G","s":"duplex","T":25,"f":0.542},{"p":"G","s":"duplex","T":35,"f":0.533},{"p":"G","s":"duplex","T":45,"f":0.47},{"p":"G","s":"duplex","T":55,"f":0.33},{"p":"G","s":"duplex","T":65,"f":0.127},{"p":"G","s":"duplex","T":75,"f":0.015},{"p":"G","s":"duplex","T":85,"f":0.048},{"p":"G","s":"duplex","T":95,"f":-0.038},
      {"p":"G","s":"i-motif","T":25,"f":0.539},{"p":"G","s":"i-motif","T":35,"f":0.458},{"p":"G","s":"i-motif","T":45,"f":0.288},{"p":"G","s":"i-motif","T":55,"f":0.113},{"p":"G","s":"i-motif","T":65,"f":0.06},{"p":"G","s":"i-motif","T":75,"f":0.042},{"p":"G","s":"i-motif","T":85,"f":0.03},{"p":"G","s":"i-motif","T":95,"f":0.006},

      {"p":"H","s":"G-quadruplex","T":25,"f":0.348},{"p":"H","s":"G-quadruplex","T":35,"f":0.321},{"p":"H","s":"G-quadruplex","T":45,"f":0.318},{"p":"H","s":"G-quadruplex","T":55,"f":0.357},{"p":"H","s":"G-quadruplex","T":65,"f":0.47},{"p":"H","s":"G-quadruplex","T":75,"f":0.651},{"p":"H","s":"G-quadruplex","T":85,"f":0.554},{"p":"H","s":"G-quadruplex","T":95,"f":0.23},
      {"p":"H","s":"G-coil","T":25,"f":-0.018},{"p":"H","s":"G-coil","T":35,"f":0.038},{"p":"H","s":"G-coil","T":45,"f":0.098},{"p":"H","s":"G-coil","T":55,"f":0.145},{"p":"H","s":"G-coil","T":65,"f":0.252},{"p":"H","s":"G-coil","T":75,"f":0.305},{"p":"H","s":"G-coil","T":85,"f":0.571},{"p":"H","s":"G-coil","T":95,"f":0.881},
      {"p":"H","s":"C-coil","T":25,"f":-0.074},{"p":"H","s":"C-coil","T":35,"f":0.027},{"p":"H","s":"C-coil","T":45,"f":0.211},{"p":"H","s":"C-coil","T":55,"f":0.446},{"p":"H","s":"C-coil","T":65,"f":0.699},{"p":"H","s":"C-coil","T":75,"f":0.925},{"p":"H","s":"C-coil","T":85,"f":1.08},{"p":"H","s":"C-coil","T":95,"f":1.113},
      {"p":"H","s":"duplex","T":25,"f":0.675},{"p":"H","s":"duplex","T":35,"f":0.645},{"p":"H","s":"duplex","T":45,"f":0.592},{"p":"H","s":"duplex","T":55,"f":0.496},{"p":"H","s":"duplex","T":65,"f":0.282},{"p":"H","s":"duplex","T":75,"f":0.051},{"p":"H","s":"duplex","T":85,"f":-0.121},{"p":"H","s":"duplex","T":95,"f":-0.107},
      {"p":"H","s":"i-motif","T":25,"f":0.408},{"p":"H","s":"i-motif","T":35,"f":0.339},{"p":"H","s":"i-motif","T":45,"f":0.208},{"p":"H","s":"i-motif","T":55,"f":0.068},{"p":"H","s":"i-motif","T":65,"f":0.027},{"p":"H","s":"i-motif","T":75,"f":0.042},{"p":"H","s":"i-motif","T":85,"f":0.054},{"p":"H","s":"i-motif","T":95,"f":-0.006}
    ],
    "labels": [
      {"p":"A","s":"G-coil","T":55.0,"f":1.003},{"p":"A","s":"C-coil","T":64.2,"f":0.675},{"p":"A","s":"duplex","T":26.2,"f":0.684},{"p":"A","s":"i-motif","T":29.1,"f":0.276},{"p":"A","s":"G-quadruplex","T":51.5,"f":-0.091},
      {"p":"B","s":"G-coil","T":51.1,"f":0.791},{"p":"B","s":"C-coil","T":59.8,"f":0.448},{"p":"B","s":"duplex","T":28.6,"f":0.637},{"p":"B","s":"i-motif","T":30.9,"f":0.272},{"p":"B","s":"G-quadruplex","T":50.1,"f":-0.076},
      {"p":"C","s":"C-coil","T":57.5,"f":0.924},{"p":"C","s":"G-coil","T":74.9,"f":0.673},{"p":"C","s":"duplex","T":38.5,"f":0.526},{"p":"C","s":"i-motif","T":42.4,"f":0.099},{"p":"C","s":"G-quadruplex","T":82.6,"f":0.225},
      {"p":"D","s":"C-coil","T":61.9,"f":0.953},{"p":"D","s":"G-coil","T":84.0,"f":0.703},{"p":"D","s":"duplex","T":34.9,"f":0.625},{"p":"D","s":"i-motif","T":50.7,"f":0.005},{"p":"D","s":"G-quadruplex","T":82.1,"f":0.352},
      {"p":"E","s":"C-coil","T":60.8,"f":0.855},{"p":"E","s":"G-coil","T":76.6,"f":0.714},{"p":"E","s":"duplex","T":34.7,"f":0.626},{"p":"E","s":"i-motif","T":51.5,"f":-0.03},{"p":"E","s":"G-quadruplex","T":80.8,"f":0.142},
      {"p":"F","s":"C-coil","T":63.6,"f":0.918},{"p":"F","s":"G-coil","T":75.4,"f":0.725},{"p":"F","s":"duplex","T":33.7,"f":0.706},{"p":"F","s":"i-motif","T":49.3,"f":-0.03},{"p":"F","s":"G-quadruplex","T":89.0,"f":0.382},
      {"p":"G","s":"C-coil","T":63.6,"f":0.92},{"p":"G","s":"G-coil","T":82.3,"f":0.732},{"p":"G","s":"duplex","T":37.1,"f":0.602},{"p":"G","s":"i-motif","T":53.4,"f":-0.065},{"p":"G","s":"G-quadruplex","T":80.8,"f":0.181},
      {"p":"H","s":"C-coil","T":66.9,"f":0.917},{"p":"H","s":"G-coil","T":85.5,"f":0.718},{"p":"H","s":"duplex","T":36.3,"f":0.718},{"p":"H","s":"i-motif","T":52.2,"f":-0.065},{"p":"H","s":"G-quadruplex","T":87.7,"f":0.131}
    ],
    "info": [
      {"p":"A","txt":"A","T":21.8,"f":0.984},{"p":"A","txt":"0 mM KCl","T":21.8,"f":0.875},
      {"p":"B","txt":"B","T":22.3,"f":0.984},{"p":"B","txt":"1 mM KCl","T":22.3,"f":0.875},
      {"p":"C","txt":"C","T":21.8,"f":0.962},{"p":"C","txt":"2 mM KCl","T":21.8,"f":0.864},
      {"p":"D","txt":"D","T":22.3,"f":0.962},{"p":"D","txt":"5 mM KCl","T":22.3,"f":0.864},
      {"p":"E","txt":"E","T":21.8,"f":0.964},{"p":"E","txt":"10 mM KCl","T":21.8,"f":0.876},
      {"p":"F","txt":"F","T":22.3,"f":0.964},{"p":"F","txt":"20 mM KCl","T":22.3,"f":0.876},
      {"p":"G","txt":"G","T":21.8,"f":1.035},{"p":"G","txt":"50 mM KCl","T":21.8,"f":0.932},
      {"p":"H","txt":"H","T":22.3,"f":1.035},{"p":"H","txt":"100 mM KCl","T":22.3,"f":0.932}
    ]
  },
  "columns": 2,
  "spacing": {"row": 47, "column": 45},
  "bounds": "flush",
  "resolve": {"scale": {"color": "independent", "shape": "independent"}},
  "concat": [
    {
      "width": 1266, "height": 937,
      "layer": [
        {"data": {"name": "curves"}, "transform": [{"filter": "datum.p === 'A'"}],
         "mark": {"type": "line", "interpolate": "monotone", "strokeWidth": 6},
         "encoding": {
           "x": {"field": "T", "type": "quantitative", "scale": {"domain": [17, 103], "nice": false, "zero": false},
                 "axis": {"orient": "bottom", "values": [20,25,30,35,40,45,50,55,60,65,70,75,80,85,90,95,100], "tickSize": {"condition": {"test": "datum.value % 10 === 0", "value": -14}, "value": -7}, "labels": false, "title": null}},
           "y": {"field": "f", "type": "quantitative", "scale": {"domain": [-0.25, 1.149], "nice": false, "zero": false},
                 "axis": {"orient": "left", "values": [-0.2,-0.1,0,0.1,0.2,0.3,0.4,0.5,0.6,0.7,0.8,0.9,1,1.1], "tickSize": {"condition": {"test": "abs(round(datum.value * 10)) % 2 === 0", "value": -14}, "value": -7}, "labelExpr": "abs(round(datum.value * 10)) % 2 === 0 ? format(datum.value, '.1f') : ''", "title": "Fractional Population", "titleX": -160, "titleY": 468.5, "titleAngle": -90, "titleBaseline": "alphabetic", "titleAlign": "center"}},
           "color": {"field": "s", "type": "nominal", "scale": {"domain": ["duplex","i-motif","G-coil","C-coil","G-quadruplex"], "range": ["#0000ff","#ff00ff","#000000","#ff0000","#008000"]}, "legend": null}}},
        {"data": {"name": "points"}, "transform": [{"filter": "datum.p === 'A'"}],
         "mark": {"type": "point", "filled": false, "opacity": 1, "strokeWidth": 5.5, "size": 625},
         "encoding": {
           "x": {"field": "T", "type": "quantitative", "axis": {"orient": "top", "values": [20,25,30,35,40,45,50,55,60,65,70,75,80,85,90,95,100], "tickSize": {"condition": {"test": "datum.value % 10 === 0", "value": -14}, "value": -7}, "labels": false, "title": null}},
           "y": {"field": "f", "type": "quantitative", "axis": {"orient": "right", "values": [-0.2,-0.1,0,0.1,0.2,0.3,0.4,0.5,0.6,0.7,0.8,0.9,1,1.1], "tickSize": {"condition": {"test": "abs(round(datum.value * 10)) % 2 === 0", "value": -14}, "value": -7}, "labels": false, "title": null}},
           "color": {"field": "s", "type": "nominal", "scale": {"domain": ["duplex","i-motif","G-coil","C-coil","G-quadruplex"], "range": ["#0000ff","#ff00ff","#000000","#ff0000","#008000"]}, "legend": null},
           "shape": {"field": "s", "type": "nominal", "scale": {"domain": ["duplex","i-motif","G-coil","C-coil","G-quadruplex"], "range": ["M-0.66,-0.66L0.66,-0.66L0.66,0.66L-0.66,0.66Z","M0,-0.7L0.68,0.7L-0.68,0.7Z","M0,0.7L0.68,-0.7L-0.68,-0.7Z","M0,-0.97L0.97,0L0,0.97L-0.97,0Z","M0.58,0L0.502,0.33L0.29,0.572L0,0.66L-0.29,0.572L-0.502,0.33L-0.58,0L-0.502,-0.33L-0.29,-0.572L0,-0.66L0.29,-0.572L0.502,-0.33Z"]}, "legend": null}}},
        {"data": {"name": "labels"}, "transform": [{"filter": "datum.p === 'A' && datum.s !== 'i-motif'"}],
         "mark": {"type": "text", "fontSize": 55, "fontWeight": "bold", "align": "center", "baseline": "alphabetic"},
         "encoding": {"x": {"field": "T", "type": "quantitative", "axis": null}, "y": {"field": "f", "type": "quantitative", "axis": null}, "text": {"field": "s"},
           "color": {"field": "s", "type": "nominal", "scale": {"domain": ["duplex","i-motif","G-coil","C-coil","G-quadruplex"], "range": ["#0000ff","#ff00ff","#000000","#ff0000","#008000"]}, "legend": null}}},
        {"data": {"name": "labels"}, "transform": [{"filter": "datum.p === 'A' && datum.s === 'i-motif'"}],
         "mark": {"type": "text", "text": "i", "fontSize": 55, "fontWeight": "bold", "fontStyle": "italic", "align": "right", "baseline": "alphabetic", "color": "#ff00ff"},
         "encoding": {"x": {"field": "T", "type": "quantitative", "axis": null}, "y": {"field": "f", "type": "quantitative", "axis": null}}},
        {"data": {"name": "labels"}, "transform": [{"filter": "datum.p === 'A' && datum.s === 'i-motif'"}],
         "mark": {"type": "text", "text": "-motif", "fontSize": 55, "fontWeight": "bold", "align": "left", "baseline": "alphabetic", "color": "#ff00ff"},
         "encoding": {"x": {"field": "T", "type": "quantitative", "axis": null}, "y": {"field": "f", "type": "quantitative", "axis": null}}},
        {"data": {"name": "info"}, "transform": [{"filter": "datum.p === 'A'"}],
         "mark": {"type": "text", "fontSize": 58, "align": "left", "baseline": "alphabetic", "color": "#000000"},
         "encoding": {"x": {"field": "T", "type": "quantitative", "axis": null}, "y": {"field": "f", "type": "quantitative", "axis": null}, "text": {"field": "txt"}}}
      ],
      "resolve": {"axis": {"x": "independent", "y": "independent"}}
    },
    {
      "width": 1266, "height": 937,
      "layer": [
        {"data": {"name": "curves"}, "transform": [{"filter": "datum.p === 'B'"}],
         "mark": {"type": "line", "interpolate": "monotone", "strokeWidth": 6},
         "encoding": {
           "x": {"field": "T", "type": "quantitative", "scale": {"domain": [17, 103], "nice": false, "zero": false},
                 "axis": {"orient": "bottom", "values": [20,25,30,35,40,45,50,55,60,65,70,75,80,85,90,95,100], "tickSize": {"condition": {"test": "datum.value % 10 === 0", "value": -14}, "value": -7}, "labels": false, "title": null}},
           "y": {"field": "f", "type": "quantitative", "scale": {"domain": [-0.25, 1.149], "nice": false, "zero": false},
                 "axis": {"orient": "left", "values": [-0.2,-0.1,0,0.1,0.2,0.3,0.4,0.5,0.6,0.7,0.8,0.9,1,1.1], "tickSize": {"condition": {"test": "abs(round(datum.value * 10)) % 2 === 0", "value": -14}, "value": -7}, "labels": false, "title": null}},
           "color": {"field": "s", "type": "nominal", "scale": {"domain": ["duplex","i-motif","G-coil","C-coil","G-quadruplex"], "range": ["#0000ff","#ff00ff","#000000","#ff0000","#008000"]}, "legend": null}}},
        {"data": {"name": "points"}, "transform": [{"filter": "datum.p === 'B'"}],
         "mark": {"type": "point", "filled": false, "opacity": 1, "strokeWidth": 5.5, "size": 625},
         "encoding": {
           "x": {"field": "T", "type": "quantitative", "axis": {"orient": "top", "values": [20,25,30,35,40,45,50,55,60,65,70,75,80,85,90,95,100], "tickSize": {"condition": {"test": "datum.value % 10 === 0", "value": -14}, "value": -7}, "labels": false, "title": null}},
           "y": {"field": "f", "type": "quantitative", "axis": {"orient": "right", "values": [-0.2,-0.1,0,0.1,0.2,0.3,0.4,0.5,0.6,0.7,0.8,0.9,1,1.1], "tickSize": {"condition": {"test": "abs(round(datum.value * 10)) % 2 === 0", "value": -14}, "value": -7}, "labels": false, "title": null}},
           "color": {"field": "s", "type": "nominal", "scale": {"domain": ["duplex","i-motif","G-coil","C-coil","G-quadruplex"], "range": ["#0000ff","#ff00ff","#000000","#ff0000","#008000"]}, "legend": null},
           "shape": {"field": "s", "type": "nominal", "scale": {"domain": ["duplex","i-motif","G-coil","C-coil","G-quadruplex"], "range": ["M-0.66,-0.66L0.66,-0.66L0.66,0.66L-0.66,0.66Z","M0,-0.7L0.68,0.7L-0.68,0.7Z","M0,0.7L0.68,-0.7L-0.68,-0.7Z","M0,-0.97L0.97,0L0,0.97L-0.97,0Z","M0.58,0L0.502,0.33L0.29,0.572L0,0.66L-0.29,0.572L-0.502,0.33L-0.58,0L-0.502,-0.33L-0.29,-0.572L0,-0.66L0.29,-0.572L0.502,-0.33Z"]}, "legend": null}}},
        {"data": {"name": "labels"}, "transform": [{"filter": "datum.p === 'B' && datum.s !== 'i-motif'"}],
         "mark": {"type": "text", "fontSize": 55, "fontWeight": "bold", "align": "center", "baseline": "alphabetic"},
         "encoding": {"x": {"field": "T", "type": "quantitative", "axis": null}, "y": {"field": "f", "type": "quantitative", "axis": null}, "text": {"field": "s"},
           "color": {"field": "s", "type": "nominal", "scale": {"domain": ["duplex","i-motif","G-coil","C-coil","G-quadruplex"], "range": ["#0000ff","#ff00ff","#000000","#ff0000","#008000"]}, "legend": null}}},
        {"data": {"name": "labels"}, "transform": [{"filter": "datum.p === 'B' && datum.s === 'i-motif'"}],
         "mark": {"type": "text", "text": "i", "fontSize": 55, "fontWeight": "bold", "fontStyle": "italic", "align": "right", "baseline": "alphabetic", "color": "#ff00ff"},
         "encoding": {"x": {"field": "T", "type": "quantitative", "axis": null}, "y": {"field": "f", "type": "quantitative", "axis": null}}},
        {"data": {"name": "labels"}, "transform": [{"filter": "datum.p === 'B' && datum.s === 'i-motif'"}],
         "mark": {"type": "text", "text": "-motif", "fontSize": 55, "fontWeight": "bold", "align": "left", "baseline": "alphabetic", "color": "#ff00ff"},
         "encoding": {"x": {"field": "T", "type": "quantitative", "axis": null}, "y": {"field": "f", "type": "quantitative", "axis": null}}},
        {"data": {"name": "info"}, "transform": [{"filter": "datum.p === 'B'"}],
         "mark": {"type": "text", "fontSize": 58, "align": "left", "baseline": "alphabetic", "color": "#000000"},
         "encoding": {"x": {"field": "T", "type": "quantitative", "axis": null}, "y": {"field": "f", "type": "quantitative", "axis": null}, "text": {"field": "txt"}}}
      ],
      "resolve": {"axis": {"x": "independent", "y": "independent"}}
    },
    {
      "width": 1266, "height": 937,
      "layer": [
        {"data": {"name": "curves"}, "transform": [{"filter": "datum.p === 'C'"}],
         "mark": {"type": "line", "interpolate": "monotone", "strokeWidth": 6},
         "encoding": {
           "x": {"field": "T", "type": "quantitative", "scale": {"domain": [17, 103], "nice": false, "zero": false},
                 "axis": {"orient": "bottom", "values": [20,25,30,35,40,45,50,55,60,65,70,75,80,85,90,95,100], "tickSize": {"condition": {"test": "datum.value % 10 === 0", "value": -14}, "value": -7}, "labels": false, "title": null}},
           "y": {"field": "f", "type": "quantitative", "scale": {"domain": [-0.1, 1.1], "nice": false, "zero": false},
                 "axis": {"orient": "left", "values": [0,0.1,0.2,0.3,0.4,0.5,0.6,0.7,0.8,0.9,1], "tickSize": {"condition": {"test": "abs(round(datum.value * 10)) % 2 === 0", "value": -14}, "value": -7}, "labelExpr": "abs(round(datum.value * 10)) % 2 === 0 ? format(datum.value, '.1f') : ''", "title": "Fractional Population", "titleX": -160, "titleY": 468.5, "titleAngle": -90, "titleBaseline": "alphabetic", "titleAlign": "center"}},
           "color": {"field": "s", "type": "nominal", "scale": {"domain": ["duplex","i-motif","G-coil","C-coil","G-quadruplex"], "range": ["#0000ff","#ff00ff","#000000","#ff0000","#008000"]}, "legend": null}}},
        {"data": {"name": "points"}, "transform": [{"filter": "datum.p === 'C'"}],
         "mark": {"type": "point", "filled": false, "opacity": 1, "strokeWidth": 5.5, "size": 625},
         "encoding": {
           "x": {"field": "T", "type": "quantitative", "axis": {"orient": "top", "values": [20,25,30,35,40,45,50,55,60,65,70,75,80,85,90,95,100], "tickSize": {"condition": {"test": "datum.value % 10 === 0", "value": -14}, "value": -7}, "labels": false, "title": null}},
           "y": {"field": "f", "type": "quantitative", "axis": {"orient": "right", "values": [0,0.1,0.2,0.3,0.4,0.5,0.6,0.7,0.8,0.9,1], "tickSize": {"condition": {"test": "abs(round(datum.value * 10)) % 2 === 0", "value": -14}, "value": -7}, "labels": false, "title": null}},
           "color": {"field": "s", "type": "nominal", "scale": {"domain": ["duplex","i-motif","G-coil","C-coil","G-quadruplex"], "range": ["#0000ff","#ff00ff","#000000","#ff0000","#008000"]}, "legend": null},
           "shape": {"field": "s", "type": "nominal", "scale": {"domain": ["duplex","i-motif","G-coil","C-coil","G-quadruplex"], "range": ["M0,-0.7L0.68,0.7L-0.68,0.7Z","M-0.66,-0.66L0.66,-0.66L0.66,0.66L-0.66,0.66Z","M0,0.7L0.68,-0.7L-0.68,-0.7Z","M0,-0.97L0.97,0L0,0.97L-0.97,0Z","M0.58,0L0.502,0.33L0.29,0.572L0,0.66L-0.29,0.572L-0.502,0.33L-0.58,0L-0.502,-0.33L-0.29,-0.572L0,-0.66L0.29,-0.572L0.502,-0.33Z"]}, "legend": null}}},
        {"data": {"name": "labels"}, "transform": [{"filter": "datum.p === 'C' && datum.s !== 'i-motif'"}],
         "mark": {"type": "text", "fontSize": 55, "fontWeight": "bold", "align": "center", "baseline": "alphabetic"},
         "encoding": {"x": {"field": "T", "type": "quantitative", "axis": null}, "y": {"field": "f", "type": "quantitative", "axis": null}, "text": {"field": "s"},
           "color": {"field": "s", "type": "nominal", "scale": {"domain": ["duplex","i-motif","G-coil","C-coil","G-quadruplex"], "range": ["#0000ff","#ff00ff","#000000","#ff0000","#008000"]}, "legend": null}}},
        {"data": {"name": "labels"}, "transform": [{"filter": "datum.p === 'C' && datum.s === 'i-motif'"}],
         "mark": {"type": "text", "text": "i", "fontSize": 55, "fontWeight": "bold", "fontStyle": "italic", "align": "right", "baseline": "alphabetic", "color": "#ff00ff"},
         "encoding": {"x": {"field": "T", "type": "quantitative", "axis": null}, "y": {"field": "f", "type": "quantitative", "axis": null}}},
        {"data": {"name": "labels"}, "transform": [{"filter": "datum.p === 'C' && datum.s === 'i-motif'"}],
         "mark": {"type": "text", "text": "-motif", "fontSize": 55, "fontWeight": "bold", "align": "left", "baseline": "alphabetic", "color": "#ff00ff"},
         "encoding": {"x": {"field": "T", "type": "quantitative", "axis": null}, "y": {"field": "f", "type": "quantitative", "axis": null}}},
        {"data": {"name": "info"}, "transform": [{"filter": "datum.p === 'C'"}],
         "mark": {"type": "text", "fontSize": 58, "align": "left", "baseline": "alphabetic", "color": "#000000"},
         "encoding": {"x": {"field": "T", "type": "quantitative", "axis": null}, "y": {"field": "f", "type": "quantitative", "axis": null}, "text": {"field": "txt"}}}
      ],
      "resolve": {"axis": {"x": "independent", "y": "independent"}}
    },
    {
      "width": 1266, "height": 937,
      "layer": [
        {"data": {"name": "curves"}, "transform": [{"filter": "datum.p === 'D'"}],
         "mark": {"type": "line", "interpolate": "monotone", "strokeWidth": 6},
         "encoding": {
           "x": {"field": "T", "type": "quantitative", "scale": {"domain": [17, 103], "nice": false, "zero": false},
                 "axis": {"orient": "bottom", "values": [20,25,30,35,40,45,50,55,60,65,70,75,80,85,90,95,100], "tickSize": {"condition": {"test": "datum.value % 10 === 0", "value": -14}, "value": -7}, "labels": false, "title": null}},
           "y": {"field": "f", "type": "quantitative", "scale": {"domain": [-0.1, 1.1], "nice": false, "zero": false},
                 "axis": {"orient": "left", "values": [0,0.1,0.2,0.3,0.4,0.5,0.6,0.7,0.8,0.9,1], "tickSize": {"condition": {"test": "abs(round(datum.value * 10)) % 2 === 0", "value": -14}, "value": -7}, "labels": false, "title": null}},
           "color": {"field": "s", "type": "nominal", "scale": {"domain": ["duplex","i-motif","G-coil","C-coil","G-quadruplex"], "range": ["#0000ff","#ff00ff","#000000","#ff0000","#008000"]}, "legend": null}}},
        {"data": {"name": "points"}, "transform": [{"filter": "datum.p === 'D'"}],
         "mark": {"type": "point", "filled": false, "opacity": 1, "strokeWidth": 5.5, "size": 625},
         "encoding": {
           "x": {"field": "T", "type": "quantitative", "axis": {"orient": "top", "values": [20,25,30,35,40,45,50,55,60,65,70,75,80,85,90,95,100], "tickSize": {"condition": {"test": "datum.value % 10 === 0", "value": -14}, "value": -7}, "labels": false, "title": null}},
           "y": {"field": "f", "type": "quantitative", "axis": {"orient": "right", "values": [0,0.1,0.2,0.3,0.4,0.5,0.6,0.7,0.8,0.9,1], "tickSize": {"condition": {"test": "abs(round(datum.value * 10)) % 2 === 0", "value": -14}, "value": -7}, "labels": false, "title": null}},
           "color": {"field": "s", "type": "nominal", "scale": {"domain": ["duplex","i-motif","G-coil","C-coil","G-quadruplex"], "range": ["#0000ff","#ff00ff","#000000","#ff0000","#008000"]}, "legend": null},
           "shape": {"field": "s", "type": "nominal", "scale": {"domain": ["duplex","i-motif","G-coil","C-coil","G-quadruplex"], "range": ["M-0.66,-0.66L0.66,-0.66L0.66,0.66L-0.66,0.66Z","M0,-0.7L0.68,0.7L-0.68,0.7Z","M0,0.7L0.68,-0.7L-0.68,-0.7Z","M0,-0.97L0.97,0L0,0.97L-0.97,0Z","M0.58,0L0.502,0.33L0.29,0.572L0,0.66L-0.29,0.572L-0.502,0.33L-0.58,0L-0.502,-0.33L-0.29,-0.572L0,-0.66L0.29,-0.572L0.502,-0.33Z"]}, "legend": null}}},
        {"data": {"name": "labels"}, "transform": [{"filter": "datum.p === 'D' && datum.s !== 'i-motif'"}],
         "mark": {"type": "text", "fontSize": 55, "fontWeight": "bold", "align": "center", "baseline": "alphabetic"},
         "encoding": {"x": {"field": "T", "type": "quantitative", "axis": null}, "y": {"field": "f", "type": "quantitative", "axis": null}, "text": {"field": "s"},
           "color": {"field": "s", "type": "nominal", "scale": {"domain": ["duplex","i-motif","G-coil","C-coil","G-quadruplex"], "range": ["#0000ff","#ff00ff","#000000","#ff0000","#008000"]}, "legend": null}}},
        {"data": {"name": "labels"}, "transform": [{"filter": "datum.p === 'D' && datum.s === 'i-motif'"}],
         "mark": {"type": "text", "text": "i", "fontSize": 55, "fontWeight": "bold", "fontStyle": "italic", "align": "right", "baseline": "alphabetic", "color": "#ff00ff"},
         "encoding": {"x": {"field": "T", "type": "quantitative", "axis": null}, "y": {"field": "f", "type": "quantitative", "axis": null}}},
        {"data": {"name": "labels"}, "transform": [{"filter": "datum.p === 'D' && datum.s === 'i-motif'"}],
         "mark": {"type": "text", "text": "-motif", "fontSize": 55, "fontWeight": "bold", "align": "left", "baseline": "alphabetic", "color": "#ff00ff"},
         "encoding": {"x": {"field": "T", "type": "quantitative", "axis": null}, "y": {"field": "f", "type": "quantitative", "axis": null}}},
        {"data": {"name": "info"}, "transform": [{"filter": "datum.p === 'D'"}],
         "mark": {"type": "text", "fontSize": 58, "align": "left", "baseline": "alphabetic", "color": "#000000"},
         "encoding": {"x": {"field": "T", "type": "quantitative", "axis": null}, "y": {"field": "f", "type": "quantitative", "axis": null}, "text": {"field": "txt"}}}
      ],
      "resolve": {"axis": {"x": "independent", "y": "independent"}}
    },
    {
      "width": 1266, "height": 937,
      "layer": [
        {"data": {"name": "curves"}, "transform": [{"filter": "datum.p === 'E'"}],
         "mark": {"type": "line", "interpolate": "monotone", "strokeWidth": 6},
         "encoding": {
           "x": {"field": "T", "type": "quantitative", "scale": {"domain": [17, 103], "nice": false, "zero": false},
                 "axis": {"orient": "bottom", "values": [20,25,30,35,40,45,50,55,60,65,70,75,80,85,90,95,100], "tickSize": {"condition": {"test": "datum.value % 10 === 0", "value": -14}, "value": -7}, "labels": false, "title": null}},
           "y": {"field": "f", "type": "quantitative", "scale": {"domain": [-0.1, 1.1], "nice": false, "zero": false},
                 "axis": {"orient": "left", "values": [0,0.1,0.2,0.3,0.4,0.5,0.6,0.7,0.8,0.9,1], "tickSize": {"condition": {"test": "abs(round(datum.value * 10)) % 2 === 0", "value": -14}, "value": -7}, "labelExpr": "abs(round(datum.value * 10)) % 2 === 0 ? format(datum.value, '.1f') : ''", "title": "Fractional Population", "titleX": -160, "titleY": 468.5, "titleAngle": -90, "titleBaseline": "alphabetic", "titleAlign": "center"}},
           "color": {"field": "s", "type": "nominal", "scale": {"domain": ["duplex","i-motif","G-coil","C-coil","G-quadruplex"], "range": ["#0000ff","#ff00ff","#000000","#ff0000","#008000"]}, "legend": null}}},
        {"data": {"name": "points"}, "transform": [{"filter": "datum.p === 'E'"}],
         "mark": {"type": "point", "filled": false, "opacity": 1, "strokeWidth": 5.5, "size": 625},
         "encoding": {
           "x": {"field": "T", "type": "quantitative", "axis": {"orient": "top", "values": [20,25,30,35,40,45,50,55,60,65,70,75,80,85,90,95,100], "tickSize": {"condition": {"test": "datum.value % 10 === 0", "value": -14}, "value": -7}, "labels": false, "title": null}},
           "y": {"field": "f", "type": "quantitative", "axis": {"orient": "right", "values": [0,0.1,0.2,0.3,0.4,0.5,0.6,0.7,0.8,0.9,1], "tickSize": {"condition": {"test": "abs(round(datum.value * 10)) % 2 === 0", "value": -14}, "value": -7}, "labels": false, "title": null}},
           "color": {"field": "s", "type": "nominal", "scale": {"domain": ["duplex","i-motif","G-coil","C-coil","G-quadruplex"], "range": ["#0000ff","#ff00ff","#000000","#ff0000","#008000"]}, "legend": null},
           "shape": {"field": "s", "type": "nominal", "scale": {"domain": ["duplex","i-motif","G-coil","C-coil","G-quadruplex"], "range": ["M-0.66,-0.66L0.66,-0.66L0.66,0.66L-0.66,0.66Z","M0.58,0L0.502,0.33L0.29,0.572L0,0.66L-0.29,0.572L-0.502,0.33L-0.58,0L-0.502,-0.33L-0.29,-0.572L0,-0.66L0.29,-0.572L0.502,-0.33Z","M0,0.7L0.68,-0.7L-0.68,-0.7Z","M0,-0.97L0.97,0L0,0.97L-0.97,0Z","M0.58,0L0.502,0.33L0.29,0.572L0,0.66L-0.29,0.572L-0.502,0.33L-0.58,0L-0.502,-0.33L-0.29,-0.572L0,-0.66L0.29,-0.572L0.502,-0.33Z"]}, "legend": null}}},
        {"data": {"name": "labels"}, "transform": [{"filter": "datum.p === 'E' && datum.s !== 'i-motif'"}],
         "mark": {"type": "text", "fontSize": 55, "fontWeight": "bold", "align": "center", "baseline": "alphabetic"},
         "encoding": {"x": {"field": "T", "type": "quantitative", "axis": null}, "y": {"field": "f", "type": "quantitative", "axis": null}, "text": {"field": "s"},
           "color": {"field": "s", "type": "nominal", "scale": {"domain": ["duplex","i-motif","G-coil","C-coil","G-quadruplex"], "range": ["#0000ff","#ff00ff","#000000","#ff0000","#008000"]}, "legend": null}}},
        {"data": {"name": "labels"}, "transform": [{"filter": "datum.p === 'E' && datum.s === 'i-motif'"}],
         "mark": {"type": "text", "text": "i", "fontSize": 55, "fontWeight": "bold", "fontStyle": "italic", "align": "right", "baseline": "alphabetic", "color": "#ff00ff"},
         "encoding": {"x": {"field": "T", "type": "quantitative", "axis": null}, "y": {"field": "f", "type": "quantitative", "axis": null}}},
        {"data": {"name": "labels"}, "transform": [{"filter": "datum.p === 'E' && datum.s === 'i-motif'"}],
         "mark": {"type": "text", "text": "-motif", "fontSize": 55, "fontWeight": "bold", "align": "left", "baseline": "alphabetic", "color": "#ff00ff"},
         "encoding": {"x": {"field": "T", "type": "quantitative", "axis": null}, "y": {"field": "f", "type": "quantitative", "axis": null}}},
        {"data": {"name": "info"}, "transform": [{"filter": "datum.p === 'E'"}],
         "mark": {"type": "text", "fontSize": 58, "align": "left", "baseline": "alphabetic", "color": "#000000"},
         "encoding": {"x": {"field": "T", "type": "quantitative", "axis": null}, "y": {"field": "f", "type": "quantitative", "axis": null}, "text": {"field": "txt"}}}
      ],
      "resolve": {"axis": {"x": "independent", "y": "independent"}}
    },
    {
      "width": 1266, "height": 937,
      "layer": [
        {"data": {"name": "curves"}, "transform": [{"filter": "datum.p === 'F'"}],
         "mark": {"type": "line", "interpolate": "monotone", "strokeWidth": 6},
         "encoding": {
           "x": {"field": "T", "type": "quantitative", "scale": {"domain": [17, 103], "nice": false, "zero": false},
                 "axis": {"orient": "bottom", "values": [20,25,30,35,40,45,50,55,60,65,70,75,80,85,90,95,100], "tickSize": {"condition": {"test": "datum.value % 10 === 0", "value": -14}, "value": -7}, "labels": false, "title": null}},
           "y": {"field": "f", "type": "quantitative", "scale": {"domain": [-0.1, 1.1], "nice": false, "zero": false},
                 "axis": {"orient": "left", "values": [0,0.1,0.2,0.3,0.4,0.5,0.6,0.7,0.8,0.9,1], "tickSize": {"condition": {"test": "abs(round(datum.value * 10)) % 2 === 0", "value": -14}, "value": -7}, "labels": false, "title": null}},
           "color": {"field": "s", "type": "nominal", "scale": {"domain": ["duplex","i-motif","G-coil","C-coil","G-quadruplex"], "range": ["#0000ff","#ff00ff","#000000","#ff0000","#008000"]}, "legend": null}}},
        {"data": {"name": "points"}, "transform": [{"filter": "datum.p === 'F'"}],
         "mark": {"type": "point", "filled": false, "opacity": 1, "strokeWidth": 5.5, "size": 625},
         "encoding": {
           "x": {"field": "T", "type": "quantitative", "axis": {"orient": "top", "values": [20,25,30,35,40,45,50,55,60,65,70,75,80,85,90,95,100], "tickSize": {"condition": {"test": "datum.value % 10 === 0", "value": -14}, "value": -7}, "labels": false, "title": null}},
           "y": {"field": "f", "type": "quantitative", "axis": {"orient": "right", "values": [0,0.1,0.2,0.3,0.4,0.5,0.6,0.7,0.8,0.9,1], "tickSize": {"condition": {"test": "abs(round(datum.value * 10)) % 2 === 0", "value": -14}, "value": -7}, "labels": false, "title": null}},
           "color": {"field": "s", "type": "nominal", "scale": {"domain": ["duplex","i-motif","G-coil","C-coil","G-quadruplex"], "range": ["#0000ff","#ff00ff","#000000","#ff0000","#008000"]}, "legend": null},
           "shape": {"field": "s", "type": "nominal", "scale": {"domain": ["duplex","i-motif","G-coil","C-coil","G-quadruplex"], "range": ["M-0.66,-0.66L0.66,-0.66L0.66,0.66L-0.66,0.66Z","M0,-0.7L0.68,0.7L-0.68,0.7Z","M0,0.7L0.68,-0.7L-0.68,-0.7Z","M0,-0.97L0.97,0L0,0.97L-0.97,0Z","M0.58,0L0.502,0.33L0.29,0.572L0,0.66L-0.29,0.572L-0.502,0.33L-0.58,0L-0.502,-0.33L-0.29,-0.572L0,-0.66L0.29,-0.572L0.502,-0.33Z"]}, "legend": null}}},
        {"data": {"name": "labels"}, "transform": [{"filter": "datum.p === 'F' && datum.s !== 'i-motif'"}],
         "mark": {"type": "text", "fontSize": 55, "fontWeight": "bold", "align": "center", "baseline": "alphabetic"},
         "encoding": {"x": {"field": "T", "type": "quantitative", "axis": null}, "y": {"field": "f", "type": "quantitative", "axis": null}, "text": {"field": "s"},
           "color": {"field": "s", "type": "nominal", "scale": {"domain": ["duplex","i-motif","G-coil","C-coil","G-quadruplex"], "range": ["#0000ff","#ff00ff","#000000","#ff0000","#008000"]}, "legend": null}}},
        {"data": {"name": "labels"}, "transform": [{"filter": "datum.p === 'F' && datum.s === 'i-motif'"}],
         "mark": {"type": "text", "text": "i", "fontSize": 55, "fontWeight": "bold", "fontStyle": "italic", "align": "right", "baseline": "alphabetic", "color": "#ff00ff"},
         "encoding": {"x": {"field": "T", "type": "quantitative", "axis": null}, "y": {"field": "f", "type": "quantitative", "axis": null}}},
        {"data": {"name": "labels"}, "transform": [{"filter": "datum.p === 'F' && datum.s === 'i-motif'"}],
         "mark": {"type": "text", "text": "-motif", "fontSize": 55, "fontWeight": "bold", "align": "left", "baseline": "alphabetic", "color": "#ff00ff"},
         "encoding": {"x": {"field": "T", "type": "quantitative", "axis": null}, "y": {"field": "f", "type": "quantitative", "axis": null}}},
        {"data": {"name": "info"}, "transform": [{"filter": "datum.p === 'F'"}],
         "mark": {"type": "text", "fontSize": 58, "align": "left", "baseline": "alphabetic", "color": "#000000"},
         "encoding": {"x": {"field": "T", "type": "quantitative", "axis": null}, "y": {"field": "f", "type": "quantitative", "axis": null}, "text": {"field": "txt"}}}
      ],
      "resolve": {"axis": {"x": "independent", "y": "independent"}}
    },
    {
      "width": 1266, "height": 937,
      "layer": [
        {"data": {"name": "curves"}, "transform": [{"filter": "datum.p === 'G'"}],
         "mark": {"type": "line", "interpolate": "monotone", "strokeWidth": 6},
         "encoding": {
           "x": {"field": "T", "type": "quantitative", "scale": {"domain": [17, 103], "nice": false, "zero": false},
                 "axis": {"orient": "bottom", "values": [20,25,30,35,40,45,50,55,60,65,70,75,80,85,90,95,100], "tickSize": {"condition": {"test": "datum.value % 10 === 0", "value": -14}, "value": -7}, "labelExpr": "datum.value % 10 === 0 ? datum.label : ''", "title": "T, °C", "titleX": 633, "titleY": 171, "titleBaseline": "alphabetic", "titleAlign": "center"}},
           "y": {"field": "f", "type": "quantitative", "scale": {"domain": [-0.249, 1.19], "nice": false, "zero": false},
                 "axis": {"orient": "left", "values": [-0.2,-0.1,0,0.1,0.2,0.3,0.4,0.5,0.6,0.7,0.8,0.9,1,1.1], "tickSize": {"condition": {"test": "abs(round(datum.value * 10)) % 2 === 0", "value": -14}, "value": -7}, "labelExpr": "abs(round(datum.value * 10)) % 2 === 0 ? format(datum.value, '.1f') : ''", "title": "Fractional Population", "titleX": -160, "titleY": 468.5, "titleAngle": -90, "titleBaseline": "alphabetic", "titleAlign": "center"}},
           "color": {"field": "s", "type": "nominal", "scale": {"domain": ["duplex","i-motif","G-coil","C-coil","G-quadruplex"], "range": ["#0000ff","#ff00ff","#000000","#ff0000","#008000"]}, "legend": null}}},
        {"data": {"name": "points"}, "transform": [{"filter": "datum.p === 'G'"}],
         "mark": {"type": "point", "filled": false, "opacity": 1, "strokeWidth": 5.5, "size": 625},
         "encoding": {
           "x": {"field": "T", "type": "quantitative", "axis": {"orient": "top", "values": [20,25,30,35,40,45,50,55,60,65,70,75,80,85,90,95,100], "tickSize": {"condition": {"test": "datum.value % 10 === 0", "value": -14}, "value": -7}, "labels": false, "title": null}},
           "y": {"field": "f", "type": "quantitative", "axis": {"orient": "right", "values": [-0.2,-0.1,0,0.1,0.2,0.3,0.4,0.5,0.6,0.7,0.8,0.9,1,1.1], "tickSize": {"condition": {"test": "abs(round(datum.value * 10)) % 2 === 0", "value": -14}, "value": -7}, "labels": false, "title": null}},
           "color": {"field": "s", "type": "nominal", "scale": {"domain": ["duplex","i-motif","G-coil","C-coil","G-quadruplex"], "range": ["#0000ff","#ff00ff","#000000","#ff0000","#008000"]}, "legend": null},
           "shape": {"field": "s", "type": "nominal", "scale": {"domain": ["duplex","i-motif","G-coil","C-coil","G-quadruplex"], "range": ["M-0.66,-0.66L0.66,-0.66L0.66,0.66L-0.66,0.66Z","M0,-0.7L0.68,0.7L-0.68,0.7Z","M0,0.7L0.68,-0.7L-0.68,-0.7Z","M0,-0.97L0.97,0L0,0.97L-0.97,0Z","M0.58,0L0.502,0.33L0.29,0.572L0,0.66L-0.29,0.572L-0.502,0.33L-0.58,0L-0.502,-0.33L-0.29,-0.572L0,-0.66L0.29,-0.572L0.502,-0.33Z"]}, "legend": null}}},
        {"data": {"name": "labels"}, "transform": [{"filter": "datum.p === 'G' && datum.s !== 'i-motif'"}],
         "mark": {"type": "text", "fontSize": 55, "fontWeight": "bold", "align": "center", "baseline": "alphabetic"},
         "encoding": {"x": {"field": "T", "type": "quantitative", "axis": null}, "y": {"field": "f", "type": "quantitative", "axis": null}, "text": {"field": "s"},
           "color": {"field": "s", "type": "nominal", "scale": {"domain": ["duplex","i-motif","G-coil","C-coil","G-quadruplex"], "range": ["#0000ff","#ff00ff","#000000","#ff0000","#008000"]}, "legend": null}}},
        {"data": {"name": "labels"}, "transform": [{"filter": "datum.p === 'G' && datum.s === 'i-motif'"}],
         "mark": {"type": "text", "text": "i", "fontSize": 55, "fontWeight": "bold", "fontStyle": "italic", "align": "right", "baseline": "alphabetic", "color": "#ff00ff"},
         "encoding": {"x": {"field": "T", "type": "quantitative", "axis": null}, "y": {"field": "f", "type": "quantitative", "axis": null}}},
        {"data": {"name": "labels"}, "transform": [{"filter": "datum.p === 'G' && datum.s === 'i-motif'"}],
         "mark": {"type": "text", "text": "-motif", "fontSize": 55, "fontWeight": "bold", "align": "left", "baseline": "alphabetic", "color": "#ff00ff"},
         "encoding": {"x": {"field": "T", "type": "quantitative", "axis": null}, "y": {"field": "f", "type": "quantitative", "axis": null}}},
        {"data": {"name": "info"}, "transform": [{"filter": "datum.p === 'G'"}],
         "mark": {"type": "text", "fontSize": 58, "align": "left", "baseline": "alphabetic", "color": "#000000"},
         "encoding": {"x": {"field": "T", "type": "quantitative", "axis": null}, "y": {"field": "f", "type": "quantitative", "axis": null}, "text": {"field": "txt"}}}
      ],
      "resolve": {"axis": {"x": "independent", "y": "independent"}}
    },
    {
      "width": 1266, "height": 937,
      "layer": [
        {"data": {"name": "curves"}, "transform": [{"filter": "datum.p === 'H'"}],
         "mark": {"type": "line", "interpolate": "monotone", "strokeWidth": 6},
         "encoding": {
           "x": {"field": "T", "type": "quantitative", "scale": {"domain": [17, 103], "nice": false, "zero": false},
                 "axis": {"orient": "bottom", "values": [20,25,30,35,40,45,50,55,60,65,70,75,80,85,90,95,100], "tickSize": {"condition": {"test": "datum.value % 10 === 0", "value": -14}, "value": -7}, "labelExpr": "datum.value % 10 === 0 ? datum.label : ''", "title": "T, °C", "titleX": 633, "titleY": 171, "titleBaseline": "alphabetic", "titleAlign": "center", "titleFontWeight": "bold"}},
           "y": {"field": "f", "type": "quantitative", "scale": {"domain": [-0.249, 1.19], "nice": false, "zero": false},
                 "axis": {"orient": "left", "values": [-0.2,-0.1,0,0.1,0.2,0.3,0.4,0.5,0.6,0.7,0.8,0.9,1,1.1], "tickSize": {"condition": {"test": "abs(round(datum.value * 10)) % 2 === 0", "value": -14}, "value": -7}, "labels": false, "title": null}},
           "color": {"field": "s", "type": "nominal", "scale": {"domain": ["duplex","i-motif","G-coil","C-coil","G-quadruplex"], "range": ["#0000ff","#ff00ff","#000000","#ff0000","#008000"]}, "legend": null}}},
        {"data": {"name": "points"}, "transform": [{"filter": "datum.p === 'H'"}],
         "mark": {"type": "point", "filled": false, "opacity": 1, "strokeWidth": 5.5, "size": 625},
         "encoding": {
           "x": {"field": "T", "type": "quantitative", "axis": {"orient": "top", "values": [20,25,30,35,40,45,50,55,60,65,70,75,80,85,90,95,100], "tickSize": {"condition": {"test": "datum.value % 10 === 0", "value": -14}, "value": -7}, "labels": false, "title": null}},
           "y": {"field": "f", "type": "quantitative", "axis": {"orient": "right", "values": [-0.2,-0.1,0,0.1,0.2,0.3,0.4,0.5,0.6,0.7,0.8,0.9,1,1.1], "tickSize": {"condition": {"test": "abs(round(datum.value * 10)) % 2 === 0", "value": -14}, "value": -7}, "labels": false, "title": null}},
           "color": {"field": "s", "type": "nominal", "scale": {"domain": ["duplex","i-motif","G-coil","C-coil","G-quadruplex"], "range": ["#0000ff","#ff00ff","#000000","#ff0000","#008000"]}, "legend": null},
           "shape": {"field": "s", "type": "nominal", "scale": {"domain": ["duplex","i-motif","G-coil","C-coil","G-quadruplex"], "range": ["M-0.66,-0.66L0.66,-0.66L0.66,0.66L-0.66,0.66Z","M0,-0.7L0.68,0.7L-0.68,0.7Z","M0,0.7L0.68,-0.7L-0.68,-0.7Z","M0,-0.97L0.97,0L0,0.97L-0.97,0Z","M0.58,0L0.502,0.33L0.29,0.572L0,0.66L-0.29,0.572L-0.502,0.33L-0.58,0L-0.502,-0.33L-0.29,-0.572L0,-0.66L0.29,-0.572L0.502,-0.33Z"]}, "legend": null}}},
        {"data": {"name": "labels"}, "transform": [{"filter": "datum.p === 'H' && datum.s !== 'i-motif'"}],
         "mark": {"type": "text", "fontSize": 55, "fontWeight": "bold", "align": "center", "baseline": "alphabetic"},
         "encoding": {"x": {"field": "T", "type": "quantitative", "axis": null}, "y": {"field": "f", "type": "quantitative", "axis": null}, "text": {"field": "s"},
           "color": {"field": "s", "type": "nominal", "scale": {"domain": ["duplex","i-motif","G-coil","C-coil","G-quadruplex"], "range": ["#0000ff","#ff00ff","#000000","#ff0000","#008000"]}, "legend": null}}},
        {"data": {"name": "labels"}, "transform": [{"filter": "datum.p === 'H' && datum.s === 'i-motif'"}],
         "mark": {"type": "text", "text": "i", "fontSize": 55, "fontWeight": "bold", "fontStyle": "italic", "align": "right", "baseline": "alphabetic", "color": "#ff00ff"},
         "encoding": {"x": {"field": "T", "type": "quantitative", "axis": null}, "y": {"field": "f", "type": "quantitative", "axis": null}}},
        {"data": {"name": "labels"}, "transform": [{"filter": "datum.p === 'H' && datum.s === 'i-motif'"}],
         "mark": {"type": "text", "text": "-motif", "fontSize": 55, "fontWeight": "bold", "align": "left", "baseline": "alphabetic", "color": "#ff00ff"},
         "encoding": {"x": {"field": "T", "type": "quantitative", "axis": null}, "y": {"field": "f", "type": "quantitative", "axis": null}}},
        {"data": {"name": "info"}, "transform": [{"filter": "datum.p === 'H'"}],
         "mark": {"type": "text", "fontSize": 58, "align": "left", "baseline": "alphabetic", "color": "#000000"},
         "encoding": {"x": {"field": "T", "type": "quantitative", "axis": null}, "y": {"field": "f", "type": "quantitative", "axis": null}, "text": {"field": "txt"}}}
      ],
      "resolve": {"axis": {"x": "independent", "y": "independent"}}
    }
  ]
}
